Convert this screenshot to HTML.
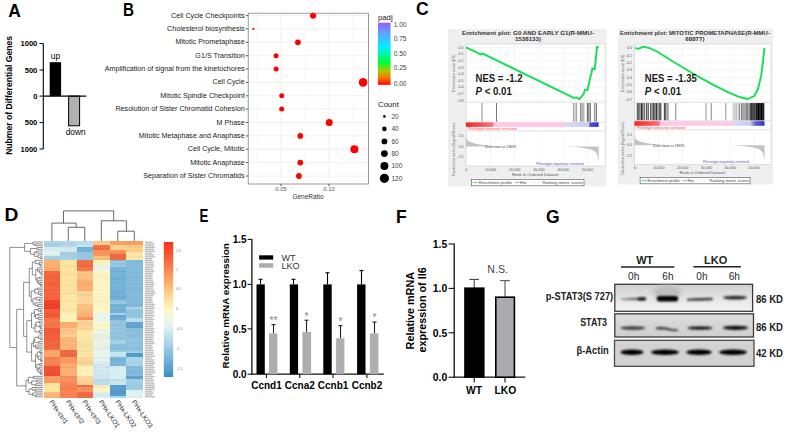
<!DOCTYPE html>
<html><head><meta charset="utf-8"><title>Figure</title>
<style>
html,body{margin:0;padding:0;background:#fff;}
body{width:789px;height:432px;overflow:hidden;position:relative;}
svg{position:absolute;left:0;top:0;font-family:"Liberation Sans", sans-serif;}
</style></head><body>
<svg width="789" height="432" viewBox="0 0 789 432">
<rect width="789" height="432" fill="#fff"/>
<text x="0" y="0" font-size="17.5" text-anchor="start" font-weight="bold" fill="#000" transform="translate(8.2,17.4) scale(1,1)">A</text>
<text x="0" y="0" font-size="17.5" text-anchor="start" font-weight="bold" fill="#000" transform="translate(123,16) scale(0.87,1)">B</text>
<text x="0" y="0" font-size="17.5" text-anchor="start" font-weight="bold" fill="#000" transform="translate(416,14.8) scale(1,1)">C</text>
<text x="0" y="0" font-size="17.5" text-anchor="start" font-weight="bold" fill="#000" transform="translate(4.6,221.3) scale(1.1,1)">D</text>
<text x="0" y="0" font-size="17.5" text-anchor="start" font-weight="bold" fill="#000" transform="translate(199.6,222) scale(0.76,1)">E</text>
<text x="0" y="0" font-size="17.5" text-anchor="start" font-weight="bold" fill="#000" transform="translate(396,222.8) scale(1,1)">F</text>
<text x="0" y="0" font-size="17.5" text-anchor="start" font-weight="bold" fill="#000" transform="translate(546,222.5) scale(1,1)">G</text>
<g id="A">
<line x1="43.3" y1="43.5" x2="43.3" y2="149" stroke="#000" stroke-width="1.1"/>
<line x1="39.5" y1="43.5" x2="43.3" y2="43.5" stroke="#000" stroke-width="1"/>
<text x="37.3" y="46.2" font-size="7.5" text-anchor="end" font-weight="bold" fill="#000" >1000</text>
<line x1="39.5" y1="70" x2="43.3" y2="70" stroke="#000" stroke-width="1"/>
<text x="37.3" y="72.7" font-size="7.5" text-anchor="end" font-weight="bold" fill="#000" >500</text>
<line x1="39.5" y1="96.1" x2="43.3" y2="96.1" stroke="#000" stroke-width="1"/>
<text x="37.3" y="98.8" font-size="7.5" text-anchor="end" font-weight="bold" fill="#000" >0</text>
<line x1="39.5" y1="122.6" x2="43.3" y2="122.6" stroke="#000" stroke-width="1"/>
<text x="37.3" y="125.3" font-size="7.5" text-anchor="end" font-weight="bold" fill="#000" >500</text>
<line x1="39.5" y1="149" x2="43.3" y2="149" stroke="#000" stroke-width="1"/>
<text x="37.3" y="151.7" font-size="7.5" text-anchor="end" font-weight="bold" fill="#000" >1000</text>
<rect x="49.7" y="62.2" width="11.4" height="33.9" fill="#000"/>
<rect x="68.6" y="96.1" width="11" height="29.7" fill="#b0b0b4" stroke="#000" stroke-width="1"/>
<line x1="43" y1="96.1" x2="86.2" y2="96.1" stroke="#000" stroke-width="1.2"/>
<text x="55.5" y="59.2" font-size="8.4" text-anchor="middle" font-weight="normal" fill="#000" >up</text>
<text x="75.7" y="135.2" font-size="8.4" text-anchor="middle" font-weight="normal" fill="#000" >down</text>
<text x="0" y="0" font-size="8.6" text-anchor="middle" font-weight="bold" fill="#000" transform="translate(12.4,95.4) rotate(-90)">Nubmer of Differential Genes</text>
</g>
<g id="B">
<rect x="248.2" y="13.2" width="120.19999999999999" height="170.8" fill="#fff"/>
<line x1="257" y1="13.2" x2="257" y2="184.0" stroke="#f4f4f4" stroke-width="0.6"/>
<line x1="305" y1="13.2" x2="305" y2="184.0" stroke="#f4f4f4" stroke-width="0.6"/>
<line x1="353" y1="13.2" x2="353" y2="184.0" stroke="#f4f4f4" stroke-width="0.6"/>
<line x1="281" y1="13.2" x2="281" y2="184.0" stroke="#ececec" stroke-width="0.8"/>
<line x1="329" y1="13.2" x2="329" y2="184.0" stroke="#ececec" stroke-width="0.8"/>
<line x1="248.2" y1="15.6" x2="368.4" y2="15.6" stroke="#ececec" stroke-width="0.8"/>
<line x1="245.7" y1="15.6" x2="248.2" y2="15.6" stroke="#333" stroke-width="0.8"/>
<text x="244.7" y="17.6" font-size="7.17" text-anchor="end" font-weight="normal" fill="#222" >Cell Cycle Checkpoints</text>
<line x1="248.2" y1="28.9" x2="368.4" y2="28.9" stroke="#ececec" stroke-width="0.8"/>
<line x1="245.7" y1="28.9" x2="248.2" y2="28.9" stroke="#333" stroke-width="0.8"/>
<text x="244.7" y="30.9" font-size="7.17" text-anchor="end" font-weight="normal" fill="#222" >Cholesterol biosynthesis</text>
<line x1="248.2" y1="42.3" x2="368.4" y2="42.3" stroke="#ececec" stroke-width="0.8"/>
<line x1="245.7" y1="42.3" x2="248.2" y2="42.3" stroke="#333" stroke-width="0.8"/>
<text x="244.7" y="44.3" font-size="7.17" text-anchor="end" font-weight="normal" fill="#222" >Mitotic Prometaphase</text>
<line x1="248.2" y1="55.7" x2="368.4" y2="55.7" stroke="#ececec" stroke-width="0.8"/>
<line x1="245.7" y1="55.7" x2="248.2" y2="55.7" stroke="#333" stroke-width="0.8"/>
<text x="244.7" y="57.7" font-size="7.17" text-anchor="end" font-weight="normal" fill="#222" >G1/S Transition</text>
<line x1="248.2" y1="69.0" x2="368.4" y2="69.0" stroke="#ececec" stroke-width="0.8"/>
<line x1="245.7" y1="69.0" x2="248.2" y2="69.0" stroke="#333" stroke-width="0.8"/>
<text x="244.7" y="71.0" font-size="7.17" text-anchor="end" font-weight="normal" fill="#222" >Amplification of signal from the kinetochores</text>
<line x1="248.2" y1="82.4" x2="368.4" y2="82.4" stroke="#ececec" stroke-width="0.8"/>
<line x1="245.7" y1="82.4" x2="248.2" y2="82.4" stroke="#333" stroke-width="0.8"/>
<text x="244.7" y="84.4" font-size="7.17" text-anchor="end" font-weight="normal" fill="#222" >Cell Cycle</text>
<line x1="248.2" y1="95.8" x2="368.4" y2="95.8" stroke="#ececec" stroke-width="0.8"/>
<line x1="245.7" y1="95.8" x2="248.2" y2="95.8" stroke="#333" stroke-width="0.8"/>
<text x="244.7" y="97.8" font-size="7.17" text-anchor="end" font-weight="normal" fill="#222" >Mitotic Spindle Checkpoint</text>
<line x1="248.2" y1="109.1" x2="368.4" y2="109.1" stroke="#ececec" stroke-width="0.8"/>
<line x1="245.7" y1="109.1" x2="248.2" y2="109.1" stroke="#333" stroke-width="0.8"/>
<text x="244.7" y="111.1" font-size="7.17" text-anchor="end" font-weight="normal" fill="#222" >Resolution of Sister Chromatid Cohesion</text>
<line x1="248.2" y1="122.5" x2="368.4" y2="122.5" stroke="#ececec" stroke-width="0.8"/>
<line x1="245.7" y1="122.5" x2="248.2" y2="122.5" stroke="#333" stroke-width="0.8"/>
<text x="244.7" y="124.5" font-size="7.17" text-anchor="end" font-weight="normal" fill="#222" >M Phase</text>
<line x1="248.2" y1="135.9" x2="368.4" y2="135.9" stroke="#ececec" stroke-width="0.8"/>
<line x1="245.7" y1="135.9" x2="248.2" y2="135.9" stroke="#333" stroke-width="0.8"/>
<text x="244.7" y="137.9" font-size="7.17" text-anchor="end" font-weight="normal" fill="#222" >Mitotic Metaphase and Anaphase</text>
<line x1="248.2" y1="149.3" x2="368.4" y2="149.3" stroke="#ececec" stroke-width="0.8"/>
<line x1="245.7" y1="149.3" x2="248.2" y2="149.3" stroke="#333" stroke-width="0.8"/>
<text x="244.7" y="151.3" font-size="7.17" text-anchor="end" font-weight="normal" fill="#222" >Cell Cycle, Mitotic</text>
<line x1="248.2" y1="162.6" x2="368.4" y2="162.6" stroke="#ececec" stroke-width="0.8"/>
<line x1="245.7" y1="162.6" x2="248.2" y2="162.6" stroke="#333" stroke-width="0.8"/>
<text x="244.7" y="164.6" font-size="7.17" text-anchor="end" font-weight="normal" fill="#222" >Mitotic Anaphase</text>
<line x1="248.2" y1="176.0" x2="368.4" y2="176.0" stroke="#ececec" stroke-width="0.8"/>
<line x1="245.7" y1="176.0" x2="248.2" y2="176.0" stroke="#333" stroke-width="0.8"/>
<text x="244.7" y="178.0" font-size="7.17" text-anchor="end" font-weight="normal" fill="#222" >Separation of Sister Chromatids</text>
<circle cx="313.1" cy="15.6" r="3.1" fill="#ff0000"/>
<circle cx="253.4" cy="28.9" r="1.1" fill="#ff0000"/>
<circle cx="297.9" cy="42.3" r="2.9" fill="#ff0000"/>
<circle cx="276.1" cy="55.7" r="2.5" fill="#ff0000"/>
<circle cx="276.1" cy="69.0" r="2.5" fill="#ff0000"/>
<circle cx="363.1" cy="82.4" r="4.3" fill="#ff0000"/>
<circle cx="281.7" cy="95.8" r="2.5" fill="#ff0000"/>
<circle cx="281.7" cy="109.1" r="2.5" fill="#ff0000"/>
<circle cx="329.2" cy="122.5" r="3.5" fill="#ff0000"/>
<circle cx="300.3" cy="135.9" r="2.9" fill="#ff0000"/>
<circle cx="354.4" cy="149.3" r="4.0" fill="#ff0000"/>
<circle cx="300.3" cy="162.6" r="2.9" fill="#ff0000"/>
<circle cx="298.9" cy="176.0" r="2.9" fill="#ff0000"/>
<rect x="248.2" y="13.2" width="120.19999999999999" height="170.8" fill="none" stroke="#808080" stroke-width="0.8"/>
<line x1="281" y1="184.0" x2="281" y2="186.2" stroke="#333" stroke-width="0.8"/>
<text x="281" y="190.6" font-size="5.8" text-anchor="middle" font-weight="normal" fill="#555" >0.05</text>
<line x1="329" y1="184.0" x2="329" y2="186.2" stroke="#333" stroke-width="0.8"/>
<text x="329" y="190.6" font-size="5.8" text-anchor="middle" font-weight="normal" fill="#555" >0.10</text>
<text x="308" y="198.6" font-size="6.5" text-anchor="middle" font-weight="normal" fill="#333" >GeneRatio</text>
<text x="377.9" y="19.9" font-size="7.8" text-anchor="start" font-weight="normal" fill="#222" >padj</text>
<defs><linearGradient id="padj" x1="0" y1="1" x2="0" y2="0"><stop offset="0" stop-color="#ff0000"/><stop offset="0.1" stop-color="#ff6a00"/><stop offset="0.22" stop-color="#b8c400"/><stop offset="0.35" stop-color="#00ff30"/><stop offset="0.6" stop-color="#00f0ff"/><stop offset="0.82" stop-color="#5aa8ff"/><stop offset="1" stop-color="#9d5cff"/></linearGradient></defs>
<rect x="377.9" y="22.7" width="12.7" height="62.1" fill="url(#padj)"/>
<text x="393.7" y="26.7" font-size="6.6" text-anchor="start" font-weight="normal" fill="#444" >1.00</text>
<text x="393.7" y="41.3" font-size="6.6" text-anchor="start" font-weight="normal" fill="#444" >0.75</text>
<text x="393.7" y="55.8" font-size="6.6" text-anchor="start" font-weight="normal" fill="#444" >0.50</text>
<text x="393.7" y="70.39999999999999" font-size="6.6" text-anchor="start" font-weight="normal" fill="#444" >0.25</text>
<text x="393.7" y="85.8" font-size="6.6" text-anchor="start" font-weight="normal" fill="#444" >0.00</text>
<text x="378" y="106.6" font-size="7.8" text-anchor="start" font-weight="normal" fill="#222" >Count</text>
<circle cx="384.4" cy="116.4" r="1.3" fill="#000"/>
<text x="391.4" y="118.7" font-size="6.6" text-anchor="start" font-weight="normal" fill="#444" >20</text>
<circle cx="384.4" cy="128.9" r="2.3" fill="#000"/>
<text x="391.4" y="131.20000000000002" font-size="6.6" text-anchor="start" font-weight="normal" fill="#444" >40</text>
<circle cx="384.4" cy="141.4" r="2.9" fill="#000"/>
<text x="391.4" y="143.70000000000002" font-size="6.6" text-anchor="start" font-weight="normal" fill="#444" >60</text>
<circle cx="384.4" cy="153.6" r="3.4" fill="#000"/>
<text x="391.4" y="155.9" font-size="6.6" text-anchor="start" font-weight="normal" fill="#444" >80</text>
<circle cx="384.4" cy="166" r="4.0" fill="#000"/>
<text x="391.4" y="168.3" font-size="6.6" text-anchor="start" font-weight="normal" fill="#444" >100</text>
<circle cx="384.4" cy="178.3" r="4.6" fill="#000"/>
<text x="391.4" y="180.60000000000002" font-size="6.6" text-anchor="start" font-weight="normal" fill="#444" >120</text>
</g>
<g>
<rect x="448" y="28.9" width="158.70000000000005" height="157.5" fill="#efefef"/>
<rect x="466" y="44" width="139.10000000000002" height="122" fill="#fff"/>
<text x="528" y="34.5" font-size="6.1" text-anchor="middle" font-weight="bold" fill="#333" textLength="132" lengthAdjust="spacingAndGlyphs">Enrichment plot: G0 AND EARLY G1(R-MMU-</text>
<text x="528" y="40.9" font-size="6.1" text-anchor="middle" font-weight="bold" fill="#333" letter-spacing="0.05">1538133)</text>
<line x1="490.5" y1="44" x2="490.5" y2="102.2" stroke="#eeeeee" stroke-width="0.6"/>
<line x1="490.5" y1="130.9" x2="490.5" y2="166" stroke="#eeeeee" stroke-width="0.6"/>
<line x1="514.7" y1="44" x2="514.7" y2="102.2" stroke="#eeeeee" stroke-width="0.6"/>
<line x1="514.7" y1="130.9" x2="514.7" y2="166" stroke="#eeeeee" stroke-width="0.6"/>
<line x1="538.9" y1="44" x2="538.9" y2="102.2" stroke="#eeeeee" stroke-width="0.6"/>
<line x1="538.9" y1="130.9" x2="538.9" y2="166" stroke="#eeeeee" stroke-width="0.6"/>
<line x1="563.1" y1="44" x2="563.1" y2="102.2" stroke="#eeeeee" stroke-width="0.6"/>
<line x1="563.1" y1="130.9" x2="563.1" y2="166" stroke="#eeeeee" stroke-width="0.6"/>
<line x1="587.3" y1="44" x2="587.3" y2="102.2" stroke="#eeeeee" stroke-width="0.6"/>
<line x1="587.3" y1="130.9" x2="587.3" y2="166" stroke="#eeeeee" stroke-width="0.6"/>
<line x1="466" y1="47.6" x2="605.1" y2="47.6" stroke="#eeeeee" stroke-width="0.6"/>
<text x="463.5" y="48.8" font-size="3.6" text-anchor="end" font-weight="normal" fill="#555" >0.0</text>
<line x1="466" y1="54.2" x2="605.1" y2="54.2" stroke="#eeeeee" stroke-width="0.6"/>
<text x="463.5" y="55.4" font-size="3.6" text-anchor="end" font-weight="normal" fill="#555" >-0.1</text>
<line x1="466" y1="60.8" x2="605.1" y2="60.8" stroke="#eeeeee" stroke-width="0.6"/>
<text x="463.5" y="62.0" font-size="3.6" text-anchor="end" font-weight="normal" fill="#555" >-0.2</text>
<line x1="466" y1="67.4" x2="605.1" y2="67.4" stroke="#eeeeee" stroke-width="0.6"/>
<text x="463.5" y="68.6" font-size="3.6" text-anchor="end" font-weight="normal" fill="#555" >-0.3</text>
<line x1="466" y1="74.0" x2="605.1" y2="74.0" stroke="#eeeeee" stroke-width="0.6"/>
<text x="463.5" y="75.2" font-size="3.6" text-anchor="end" font-weight="normal" fill="#555" >-0.4</text>
<line x1="466" y1="80.6" x2="605.1" y2="80.6" stroke="#eeeeee" stroke-width="0.6"/>
<text x="463.5" y="81.8" font-size="3.6" text-anchor="end" font-weight="normal" fill="#555" >-0.5</text>
<line x1="466" y1="87.2" x2="605.1" y2="87.2" stroke="#eeeeee" stroke-width="0.6"/>
<text x="463.5" y="88.4" font-size="3.6" text-anchor="end" font-weight="normal" fill="#555" >-0.6</text>
<line x1="466" y1="93.8" x2="605.1" y2="93.8" stroke="#eeeeee" stroke-width="0.6"/>
<text x="463.5" y="95.0" font-size="3.6" text-anchor="end" font-weight="normal" fill="#555" >-0.7</text>
<line x1="466" y1="100.4" x2="605.1" y2="100.4" stroke="#eeeeee" stroke-width="0.6"/>
<text x="463.5" y="101.6" font-size="3.6" text-anchor="end" font-weight="normal" fill="#555" >-0.8</text>
<line x1="466" y1="44" x2="605.1" y2="44" stroke="#d4d4d4" stroke-width="0.7"/>
<line x1="466" y1="102.2" x2="605.1" y2="102.2" stroke="#d4d4d4" stroke-width="0.7"/>
<line x1="466" y1="122.2" x2="605.1" y2="122.2" stroke="#d4d4d4" stroke-width="0.7"/>
<line x1="466" y1="130.9" x2="605.1" y2="130.9" stroke="#d4d4d4" stroke-width="0.7"/>
<line x1="466" y1="166" x2="605.1" y2="166" stroke="#d4d4d4" stroke-width="0.7"/>
<line x1="466" y1="44" x2="466" y2="166" stroke="#cfcfcf" stroke-width="0.7"/>
<line x1="605.1" y1="44" x2="605.1" y2="166" stroke="#dddddd" stroke-width="0.7"/>
<text x="0" y="0" font-size="3.7" text-anchor="middle" font-weight="normal" fill="#666" transform="translate(455,73.1) rotate(-90)">Enrichment score (ES)</text>
<polyline points="466.0,47.4 481.2,54.6 482.3,53.4 573.8,97.9 576.2,97.4 579.4,99.1 583.5,94.2 585.1,89.4 587.5,90.2 589.9,78.8 591.6,72.4 592.4,68.3 594.8,69.1 596.4,52.9 596.9,46.8 598.8,47.3" fill="none" stroke="#12e052" stroke-width="1.9" stroke-linejoin="round"/>
<line x1="482.0" y1="103.0" x2="482.0" y2="121.7" stroke="#888" stroke-width="1.0"/>
<line x1="496.5" y1="103.0" x2="496.5" y2="121.7" stroke="#777" stroke-width="1.0"/>
<line x1="573.5" y1="103.0" x2="573.5" y2="121.7" stroke="rgb(170,170,170)" stroke-width="1.2"/>
<line x1="575.0" y1="103.0" x2="575.0" y2="121.7" stroke="rgb(185,185,185)" stroke-width="1.2"/>
<line x1="576.5" y1="103.0" x2="576.5" y2="121.7" stroke="rgb(165,165,165)" stroke-width="1.2"/>
<line x1="580.5" y1="103.0" x2="580.5" y2="121.7" stroke="rgb(150,150,150)" stroke-width="1.2"/>
<line x1="582.0" y1="103.0" x2="582.0" y2="121.7" stroke="rgb(135,135,135)" stroke-width="1.2"/>
<line x1="583.8" y1="103.0" x2="583.8" y2="121.7" stroke="rgb(165,165,165)" stroke-width="1.2"/>
<line x1="587.5" y1="103.0" x2="587.5" y2="121.7" stroke="rgb(100,100,100)" stroke-width="1.2"/>
<line x1="588.8" y1="103.0" x2="588.8" y2="121.7" stroke="rgb(130,130,130)" stroke-width="1.2"/>
<line x1="590.3" y1="103.0" x2="590.3" y2="121.7" stroke="rgb(115,115,115)" stroke-width="1.2"/>
<line x1="594.5" y1="103.0" x2="594.5" y2="121.7" stroke="rgb(150,150,150)" stroke-width="1.2"/>
<line x1="596.3" y1="103.0" x2="596.3" y2="121.7" stroke="rgb(115,115,115)" stroke-width="1.2"/>
<defs><linearGradient id="g1cb" x1="0" y1="0" x2="1" y2="0"><stop offset="0" stop-color="#ff2020"/><stop offset="0.1" stop-color="#ff4848"/><stop offset="0.2" stop-color="#ff7080"/><stop offset="0.212" stop-color="#ffc8e6"/><stop offset="0.755" stop-color="#ffc8e6"/><stop offset="0.757" stop-color="#d6daf6"/><stop offset="0.925" stop-color="#c8ccf2"/><stop offset="0.935" stop-color="#5050d8"/><stop offset="1" stop-color="#3030c8"/></linearGradient></defs>
<rect x="466" y="122.4" width="132.60000000000002" height="4.5" fill="url(#g1cb)"/>
<text x="468" y="130.3" font-size="3.5" text-anchor="start" font-weight="normal" fill="#ff4040" >Phenotype positively correlated</text>
<text x="536.2" y="164.6" font-size="3.6" text-anchor="start" font-weight="normal" fill="#5050d0" textLength="47.3" lengthAdjust="spacingAndGlyphs">Phenotype negatively correlated</text>
<text x="463.5" y="137.3" font-size="3.6" text-anchor="end" font-weight="normal" fill="#555" >2.5</text>
<text x="463.5" y="147.6" font-size="3.6" text-anchor="end" font-weight="normal" fill="#555" >0.0</text>
<text x="463.5" y="158.4" font-size="3.6" text-anchor="end" font-weight="normal" fill="#555" >-2.5</text>
<path d="M466,137 C467,142 472,144.5 500,146.4 L466,146.4 Z" fill="#c4c4c4"/>
<path d="M565.7,146.4 C585,147.3 594,149 596.5,153 C597.8,156 598.3,159 598.7,164 L598.7,146.4 Z" fill="#c4c4c4"/>
<text x="484.8" y="147.70000000000002" font-size="3.5" text-anchor="start" font-weight="normal" fill="#444" >Zero cross at 13693</text>
<text x="0" y="0" font-size="3.6" text-anchor="middle" font-weight="normal" fill="#666" transform="translate(455,149.4) rotate(-90)">Ranked list metric (Signal2Noise)</text>
<text x="466.3" y="170.9" font-size="3.7" text-anchor="middle" font-weight="normal" fill="#555" >0</text>
<text x="490.5" y="170.9" font-size="3.7" text-anchor="middle" font-weight="normal" fill="#555" >10,000</text>
<text x="514.7" y="170.9" font-size="3.7" text-anchor="middle" font-weight="normal" fill="#555" >20,000</text>
<text x="538.9" y="170.9" font-size="3.7" text-anchor="middle" font-weight="normal" fill="#555" >30,000</text>
<text x="563.1" y="170.9" font-size="3.7" text-anchor="middle" font-weight="normal" fill="#555" >40,000</text>
<text x="587.3" y="170.9" font-size="3.7" text-anchor="middle" font-weight="normal" fill="#555" >50,000</text>
<text x="535.2" y="175.8" font-size="4.2" text-anchor="middle" font-weight="normal" fill="#555" textLength="46.6" lengthAdjust="spacingAndGlyphs">Rank in Ordered Dataset</text>
<rect x="471.3" y="179.3" width="112.69999999999999" height="6.5" fill="#fff" stroke="#555" stroke-width="0.6"/>
<line x1="472.5" y1="182.55" x2="478.5" y2="182.55" stroke="#5de58a" stroke-width="1.2"/>
<text x="478.9" y="183.95000000000002" font-size="4.1" text-anchor="start" font-weight="normal" fill="#444" textLength="33.1" lengthAdjust="spacingAndGlyphs">Enrichment profile</text>
<line x1="514.7" y1="182.55" x2="519.2" y2="182.55" stroke="#555" stroke-width="0.5"/>
<text x="519.8" y="183.95000000000002" font-size="4.1" text-anchor="start" font-weight="normal" fill="#444" textLength="7.0" lengthAdjust="spacingAndGlyphs">Hits</text>
<line x1="531.0" y1="182.55" x2="541.2" y2="182.55" stroke="#ddd" stroke-width="0.5"/>
<text x="542.5" y="183.95000000000002" font-size="4.1" text-anchor="start" font-weight="normal" fill="#444" textLength="40.6" lengthAdjust="spacingAndGlyphs">Ranking metric scores</text>
<text x="475.5" y="82" font-size="10.6" text-anchor="start" font-weight="bold" fill="#1a1a1a" textLength="47" lengthAdjust="spacingAndGlyphs">NES = -1.2</text>
<text x="475.5" y="95.4" font-size="10.6" text-anchor="start" font-weight="bold" fill="#1a1a1a" textLength="36.3" lengthAdjust="spacingAndGlyphs"><tspan font-style="italic">P</tspan> &lt; 0.01</text>
</g>
<g>
<rect x="618" y="28.9" width="155" height="155.7" fill="#efefef"/>
<rect x="634.5" y="44" width="136.5" height="120.5" fill="#fff"/>
<text x="694.9" y="34.5" font-size="6.1" text-anchor="middle" font-weight="bold" fill="#333" textLength="150" lengthAdjust="spacingAndGlyphs">Enrichment plot: MITOTIC PROMETAPHASE(R-MMU-</text>
<text x="694.9" y="40.9" font-size="6.1" text-anchor="middle" font-weight="bold" fill="#333" letter-spacing="0.05">68877)</text>
<line x1="658.8" y1="44" x2="658.8" y2="102.3" stroke="#eeeeee" stroke-width="0.6"/>
<line x1="658.8" y1="129.8" x2="658.8" y2="164.5" stroke="#eeeeee" stroke-width="0.6"/>
<line x1="682.6" y1="44" x2="682.6" y2="102.3" stroke="#eeeeee" stroke-width="0.6"/>
<line x1="682.6" y1="129.8" x2="682.6" y2="164.5" stroke="#eeeeee" stroke-width="0.6"/>
<line x1="706.4" y1="44" x2="706.4" y2="102.3" stroke="#eeeeee" stroke-width="0.6"/>
<line x1="706.4" y1="129.8" x2="706.4" y2="164.5" stroke="#eeeeee" stroke-width="0.6"/>
<line x1="730.2" y1="44" x2="730.2" y2="102.3" stroke="#eeeeee" stroke-width="0.6"/>
<line x1="730.2" y1="129.8" x2="730.2" y2="164.5" stroke="#eeeeee" stroke-width="0.6"/>
<line x1="754.0" y1="44" x2="754.0" y2="102.3" stroke="#eeeeee" stroke-width="0.6"/>
<line x1="754.0" y1="129.8" x2="754.0" y2="164.5" stroke="#eeeeee" stroke-width="0.6"/>
<line x1="634.5" y1="48.0" x2="771" y2="48.0" stroke="#eeeeee" stroke-width="0.6"/>
<text x="632.0" y="49.2" font-size="3.6" text-anchor="end" font-weight="normal" fill="#555" >0.0</text>
<line x1="634.5" y1="55.4" x2="771" y2="55.4" stroke="#eeeeee" stroke-width="0.6"/>
<text x="632.0" y="56.6" font-size="3.6" text-anchor="end" font-weight="normal" fill="#555" >-0.1</text>
<line x1="634.5" y1="62.7" x2="771" y2="62.7" stroke="#eeeeee" stroke-width="0.6"/>
<text x="632.0" y="63.9" font-size="3.6" text-anchor="end" font-weight="normal" fill="#555" >-0.2</text>
<line x1="634.5" y1="70.0" x2="771" y2="70.0" stroke="#eeeeee" stroke-width="0.6"/>
<text x="632.0" y="71.2" font-size="3.6" text-anchor="end" font-weight="normal" fill="#555" >-0.3</text>
<line x1="634.5" y1="77.4" x2="771" y2="77.4" stroke="#eeeeee" stroke-width="0.6"/>
<text x="632.0" y="78.6" font-size="3.6" text-anchor="end" font-weight="normal" fill="#555" >-0.4</text>
<line x1="634.5" y1="84.8" x2="771" y2="84.8" stroke="#eeeeee" stroke-width="0.6"/>
<text x="632.0" y="86.0" font-size="3.6" text-anchor="end" font-weight="normal" fill="#555" >-0.5</text>
<line x1="634.5" y1="92.1" x2="771" y2="92.1" stroke="#eeeeee" stroke-width="0.6"/>
<text x="632.0" y="93.3" font-size="3.6" text-anchor="end" font-weight="normal" fill="#555" >-0.6</text>
<line x1="634.5" y1="99.4" x2="771" y2="99.4" stroke="#eeeeee" stroke-width="0.6"/>
<text x="632.0" y="100.6" font-size="3.6" text-anchor="end" font-weight="normal" fill="#555" >-0.7</text>
<line x1="634.5" y1="44" x2="771" y2="44" stroke="#d4d4d4" stroke-width="0.7"/>
<line x1="634.5" y1="102.3" x2="771" y2="102.3" stroke="#d4d4d4" stroke-width="0.7"/>
<line x1="634.5" y1="120.8" x2="771" y2="120.8" stroke="#d4d4d4" stroke-width="0.7"/>
<line x1="634.5" y1="129.8" x2="771" y2="129.8" stroke="#d4d4d4" stroke-width="0.7"/>
<line x1="634.5" y1="164.5" x2="771" y2="164.5" stroke="#d4d4d4" stroke-width="0.7"/>
<line x1="634.5" y1="44" x2="634.5" y2="164.5" stroke="#cfcfcf" stroke-width="0.7"/>
<line x1="771" y1="44" x2="771" y2="164.5" stroke="#dddddd" stroke-width="0.7"/>
<text x="0" y="0" font-size="3.7" text-anchor="middle" font-weight="normal" fill="#666" transform="translate(623.5,73.2) rotate(-90)">Enrichment score (ES)</text>
<polyline points="635.2,47.9 638.3,48.8 643.5,46.7 648.8,47.9 657.0,51.5 671.7,60.8 692.5,73.3 713.3,84.8 730.0,93.1 740.4,97.3 747.7,99.0 754.0,96.2 758.0,89.0 761.2,75.4 763.3,58.8 764.4,47.9" fill="none" stroke="#12e052" stroke-width="1.9" stroke-linejoin="round"/>
<line x1="637.3" y1="103.1" x2="637.3" y2="120.3" stroke="rgb(81,81,81)" stroke-width="1.1"/>
<line x1="638.8" y1="103.1" x2="638.8" y2="120.3" stroke="rgb(59,59,59)" stroke-width="1.1"/>
<line x1="640.0" y1="103.1" x2="640.0" y2="120.3" stroke="rgb(90,90,90)" stroke-width="1.1"/>
<line x1="641.5" y1="103.1" x2="641.5" y2="120.3" stroke="rgb(46,46,46)" stroke-width="1.1"/>
<line x1="642.9" y1="103.1" x2="642.9" y2="120.3" stroke="rgb(49,49,49)" stroke-width="1.1"/>
<line x1="644.6" y1="103.1" x2="644.6" y2="120.3" stroke="rgb(108,108,108)" stroke-width="1.1"/>
<line x1="646.7" y1="103.1" x2="646.7" y2="120.3" stroke="rgb(52,52,52)" stroke-width="1.1"/>
<line x1="648.3" y1="103.1" x2="648.3" y2="120.3" stroke="rgb(86,86,86)" stroke-width="1.1"/>
<line x1="650.8" y1="103.1" x2="650.8" y2="120.3" stroke="rgb(47,47,47)" stroke-width="1.1"/>
<line x1="652.2" y1="103.1" x2="652.2" y2="120.3" stroke="rgb(104,104,104)" stroke-width="1.1"/>
<line x1="653.6" y1="103.1" x2="653.6" y2="120.3" stroke="rgb(67,67,67)" stroke-width="1.1"/>
<line x1="655.0" y1="103.1" x2="655.0" y2="120.3" stroke="rgb(44,44,44)" stroke-width="1.1"/>
<line x1="656.5" y1="103.1" x2="656.5" y2="120.3" stroke="rgb(51,51,51)" stroke-width="1.1"/>
<line x1="658.0" y1="103.1" x2="658.0" y2="120.3" stroke="rgb(95,95,95)" stroke-width="1.1"/>
<line x1="659.4" y1="103.1" x2="659.4" y2="120.3" stroke="rgb(93,93,93)" stroke-width="1.1"/>
<line x1="660.8" y1="103.1" x2="660.8" y2="120.3" stroke="rgb(48,48,48)" stroke-width="1.1"/>
<line x1="664.4" y1="103.1" x2="664.4" y2="120.3" stroke="rgb(70,70,70)" stroke-width="1.1"/>
<line x1="665.8" y1="103.1" x2="665.8" y2="120.3" stroke="rgb(51,51,51)" stroke-width="1.1"/>
<line x1="667.9" y1="103.1" x2="667.9" y2="120.3" stroke="rgb(110,110,110)" stroke-width="1.1"/>
<line x1="675.8" y1="103.1" x2="675.8" y2="120.3" stroke="#777" stroke-width="0.9"/>
<line x1="706.0" y1="103.1" x2="706.0" y2="120.3" stroke="#888" stroke-width="0.9"/>
<line x1="711.2" y1="103.1" x2="711.2" y2="120.3" stroke="#777" stroke-width="0.9"/>
<line x1="725.8" y1="103.1" x2="725.8" y2="120.3" stroke="#888" stroke-width="0.9"/>
<line x1="733.0" y1="103.1" x2="733.0" y2="120.3" stroke="rgb(202,202,202)" stroke-width="1.0"/>
<line x1="734.0" y1="103.1" x2="734.0" y2="120.3" stroke="rgb(205,205,205)" stroke-width="1.0"/>
<line x1="735.0" y1="103.1" x2="735.0" y2="120.3" stroke="rgb(177,177,177)" stroke-width="1.0"/>
<line x1="736.4" y1="103.1" x2="736.4" y2="120.3" stroke="rgb(191,191,191)" stroke-width="1.0"/>
<line x1="738.2" y1="103.1" x2="738.2" y2="120.3" stroke="rgb(179,179,179)" stroke-width="1.0"/>
<line x1="739.6" y1="103.1" x2="739.6" y2="120.3" stroke="rgb(138,138,138)" stroke-width="1.0"/>
<line x1="741.4" y1="103.1" x2="741.4" y2="120.3" stroke="rgb(126,126,126)" stroke-width="1.0"/>
<line x1="742.8" y1="103.1" x2="742.8" y2="120.3" stroke="rgb(124,124,124)" stroke-width="1.0"/>
<line x1="744.0" y1="103.1" x2="744.0" y2="120.3" stroke="rgb(118,118,118)" stroke-width="1.0"/>
<line x1="745.3" y1="103.1" x2="745.3" y2="120.3" stroke="rgb(136,136,136)" stroke-width="1.0"/>
<line x1="746.5" y1="103.1" x2="746.5" y2="120.3" stroke="rgb(136,136,136)" stroke-width="1.0"/>
<line x1="747.6" y1="103.1" x2="747.6" y2="120.3" stroke="rgb(124,124,124)" stroke-width="1.0"/>
<line x1="749.0" y1="103.1" x2="749.0" y2="120.3" stroke="rgb(91,91,91)" stroke-width="1.0"/>
<line x1="750.2" y1="103.1" x2="750.2" y2="120.3" stroke="rgb(85,85,85)" stroke-width="1.0"/>
<line x1="750.9" y1="103.1" x2="750.9" y2="120.3" stroke="rgb(45,45,45)" stroke-width="1.0"/>
<line x1="751.6" y1="103.1" x2="751.6" y2="120.3" stroke="rgb(47,47,47)" stroke-width="1.0"/>
<line x1="752.3" y1="103.1" x2="752.3" y2="120.3" stroke="rgb(49,49,49)" stroke-width="1.0"/>
<line x1="753.0" y1="103.1" x2="753.0" y2="120.3" stroke="rgb(66,66,66)" stroke-width="1.0"/>
<line x1="753.7" y1="103.1" x2="753.7" y2="120.3" stroke="rgb(54,54,54)" stroke-width="1.0"/>
<line x1="754.4" y1="103.1" x2="754.4" y2="120.3" stroke="rgb(71,71,71)" stroke-width="1.0"/>
<line x1="755.1" y1="103.1" x2="755.1" y2="120.3" stroke="rgb(47,47,47)" stroke-width="1.0"/>
<line x1="755.8" y1="103.1" x2="755.8" y2="120.3" stroke="rgb(70,70,70)" stroke-width="1.0"/>
<line x1="756.5" y1="103.1" x2="756.5" y2="120.3" stroke="rgb(60,60,60)" stroke-width="1.0"/>
<line x1="757.0" y1="103.1" x2="757.0" y2="120.3" stroke="#000" stroke-width="1.0"/>
<line x1="757.8" y1="103.1" x2="757.8" y2="120.3" stroke="#000" stroke-width="1.0"/>
<line x1="758.5" y1="103.1" x2="758.5" y2="120.3" stroke="#000" stroke-width="1.0"/>
<line x1="759.2" y1="103.1" x2="759.2" y2="120.3" stroke="#000" stroke-width="1.0"/>
<line x1="760.0" y1="103.1" x2="760.0" y2="120.3" stroke="#000" stroke-width="1.0"/>
<line x1="760.8" y1="103.1" x2="760.8" y2="120.3" stroke="#000" stroke-width="1.0"/>
<line x1="761.5" y1="103.1" x2="761.5" y2="120.3" stroke="#000" stroke-width="1.0"/>
<line x1="762.2" y1="103.1" x2="762.2" y2="120.3" stroke="#000" stroke-width="1.0"/>
<line x1="763.0" y1="103.1" x2="763.0" y2="120.3" stroke="#000" stroke-width="1.0"/>
<line x1="763.8" y1="103.1" x2="763.8" y2="120.3" stroke="#000" stroke-width="1.0"/>
<defs><linearGradient id="g2cb" x1="0" y1="0" x2="1" y2="0"><stop offset="0" stop-color="#ff2020"/><stop offset="0.1" stop-color="#ff4848"/><stop offset="0.19" stop-color="#ff7080"/><stop offset="0.2" stop-color="#ffc8e6"/><stop offset="0.755" stop-color="#ffc8e6"/><stop offset="0.757" stop-color="#d6daf6"/><stop offset="0.89" stop-color="#c8ccf2"/><stop offset="0.93" stop-color="#6060d8"/><stop offset="1" stop-color="#3030c0"/></linearGradient></defs>
<rect x="634.5" y="121.2" width="130.0" height="4.599999999999994" fill="url(#g2cb)"/>
<text x="636.5" y="129.2" font-size="3.5" text-anchor="start" font-weight="normal" fill="#ff4040" >Phenotype positively correlated</text>
<text x="703" y="163" font-size="3.6" text-anchor="start" font-weight="normal" fill="#5050d0" textLength="46" lengthAdjust="spacingAndGlyphs">Phenotype negatively correlated</text>
<text x="632.0" y="136.1" font-size="3.6" text-anchor="end" font-weight="normal" fill="#555" >2.5</text>
<text x="632.0" y="146.4" font-size="3.6" text-anchor="end" font-weight="normal" fill="#555" >0.0</text>
<text x="632.0" y="157.2" font-size="3.6" text-anchor="end" font-weight="normal" fill="#555" >-2.5</text>
<path d="M634.5,136 C635.5,141 640,143.5 668,145.2 L634.5,145.2 Z" fill="#c4c4c4"/>
<path d="M732,145.2 C751,146.1 760,148 762.4,152 C763.6,155 764.1,158 764.5,162.5 L764.5,145.2 Z" fill="#c4c4c4"/>
<text x="653" y="146.5" font-size="3.5" text-anchor="start" font-weight="normal" fill="#444" >Zero cross at 13693</text>
<text x="0" y="0" font-size="3.6" text-anchor="middle" font-weight="normal" fill="#666" transform="translate(623.5,148.2) rotate(-90)">Ranked list metric (Signal2Noise)</text>
<text x="635.0" y="168.8" font-size="3.7" text-anchor="middle" font-weight="normal" fill="#555" >0</text>
<text x="658.8" y="168.8" font-size="3.7" text-anchor="middle" font-weight="normal" fill="#555" >10,000</text>
<text x="682.6" y="168.8" font-size="3.7" text-anchor="middle" font-weight="normal" fill="#555" >20,000</text>
<text x="706.4" y="168.8" font-size="3.7" text-anchor="middle" font-weight="normal" fill="#555" >30,000</text>
<text x="730.2" y="168.8" font-size="3.7" text-anchor="middle" font-weight="normal" fill="#555" >40,000</text>
<text x="754.0" y="168.8" font-size="3.7" text-anchor="middle" font-weight="normal" fill="#555" >50,000</text>
<text x="702.3" y="173.7" font-size="4.2" text-anchor="middle" font-weight="normal" fill="#555" textLength="45.6" lengthAdjust="spacingAndGlyphs">Rank in Ordered Dataset</text>
<rect x="640.1" y="177.6" width="110.0" height="6.200000000000017" fill="#fff" stroke="#555" stroke-width="0.6"/>
<line x1="641.3" y1="180.7" x2="647.1" y2="180.7" stroke="#5de58a" stroke-width="1.2"/>
<text x="647.5" y="182.1" font-size="4.1" text-anchor="start" font-weight="normal" fill="#444" textLength="32.3" lengthAdjust="spacingAndGlyphs">Enrichment profile</text>
<line x1="682.5" y1="180.7" x2="686.9" y2="180.7" stroke="#555" stroke-width="0.5"/>
<text x="687.4" y="182.1" font-size="4.1" text-anchor="start" font-weight="normal" fill="#444" textLength="6.8" lengthAdjust="spacingAndGlyphs">Hits</text>
<line x1="698.4" y1="180.7" x2="708.3" y2="180.7" stroke="#ddd" stroke-width="0.5"/>
<text x="709.6" y="182.1" font-size="4.1" text-anchor="start" font-weight="normal" fill="#444" textLength="39.6" lengthAdjust="spacingAndGlyphs">Ranking metric scores</text>
<text x="644.8" y="82" font-size="10.6" text-anchor="start" font-weight="bold" fill="#1a1a1a" textLength="52" lengthAdjust="spacingAndGlyphs">NES = -1.35</text>
<text x="644.8" y="95.2" font-size="10.6" text-anchor="start" font-weight="bold" fill="#1a1a1a" textLength="36.3" lengthAdjust="spacingAndGlyphs"><tspan font-style="italic">P</tspan> &lt; 0.01</text>
</g>
<defs><filter id="hmb" x="-2%" y="-2%" width="104%" height="104%"><feGaussianBlur stdDeviation="0.35"/></filter></defs><g shape-rendering="crispEdges" filter="url(#hmb)">
<rect x="43.60" y="241.10" width="16.80" height="2.14" fill="#acd5e8"/>
<rect x="43.60" y="242.94" width="16.80" height="2.14" fill="#a5cee1"/>
<rect x="43.60" y="244.78" width="16.80" height="2.14" fill="#a8d2e4"/>
<rect x="43.60" y="246.62" width="16.80" height="2.14" fill="#d7edef"/>
<rect x="43.60" y="248.46" width="16.80" height="2.14" fill="#d5ebed"/>
<rect x="43.60" y="250.31" width="16.80" height="2.14" fill="#d7edef"/>
<rect x="43.60" y="252.15" width="16.80" height="2.14" fill="#e2f3f2"/>
<rect x="43.60" y="253.99" width="16.80" height="2.14" fill="#dbebea"/>
<rect x="43.60" y="255.83" width="16.80" height="2.14" fill="#a9d1e5"/>
<rect x="43.60" y="257.67" width="16.80" height="2.14" fill="#a5ccdf"/>
<rect x="43.60" y="259.51" width="16.80" height="2.14" fill="#faac69"/>
<rect x="43.60" y="261.35" width="16.80" height="2.14" fill="#fdb06f"/>
<rect x="43.60" y="263.19" width="16.80" height="2.14" fill="#fbad6a"/>
<rect x="43.60" y="265.04" width="16.80" height="2.14" fill="#fdb06f"/>
<rect x="43.60" y="266.88" width="16.80" height="2.14" fill="#f5a867"/>
<rect x="43.60" y="268.72" width="16.80" height="2.14" fill="#fdae6b"/>
<rect x="43.60" y="270.56" width="16.80" height="2.14" fill="#f56842"/>
<rect x="43.60" y="272.40" width="16.80" height="2.14" fill="#f56843"/>
<rect x="43.60" y="274.24" width="16.80" height="2.14" fill="#f2633e"/>
<rect x="43.60" y="276.08" width="16.80" height="2.14" fill="#f2633e"/>
<rect x="43.60" y="277.92" width="16.80" height="2.14" fill="#f4643e"/>
<rect x="43.60" y="279.76" width="16.80" height="2.14" fill="#f56842"/>
<rect x="43.60" y="281.61" width="16.80" height="2.14" fill="#ed613d"/>
<rect x="43.60" y="283.45" width="16.80" height="2.14" fill="#ee623d"/>
<rect x="43.60" y="285.29" width="16.80" height="2.14" fill="#f1633d"/>
<rect x="43.60" y="287.13" width="16.80" height="2.14" fill="#f56741"/>
<rect x="43.60" y="288.97" width="16.80" height="2.14" fill="#ed613d"/>
<rect x="43.60" y="290.81" width="16.80" height="2.14" fill="#f56742"/>
<rect x="43.60" y="292.65" width="16.80" height="2.14" fill="#f1633e"/>
<rect x="43.60" y="294.49" width="16.80" height="2.14" fill="#f56540"/>
<rect x="43.60" y="296.34" width="16.80" height="2.14" fill="#f56641"/>
<rect x="43.60" y="298.18" width="16.80" height="2.14" fill="#f4643e"/>
<rect x="43.60" y="300.02" width="16.80" height="2.14" fill="#f0402d"/>
<rect x="43.60" y="301.86" width="16.80" height="2.14" fill="#f0432f"/>
<rect x="43.60" y="303.70" width="16.80" height="2.14" fill="#ed3d29"/>
<rect x="43.60" y="305.54" width="16.80" height="2.14" fill="#f04330"/>
<rect x="43.60" y="307.38" width="16.80" height="2.14" fill="#ed3d29"/>
<rect x="43.60" y="309.22" width="16.80" height="2.14" fill="#f35d3b"/>
<rect x="43.60" y="311.06" width="16.80" height="2.14" fill="#f25b39"/>
<rect x="43.60" y="312.91" width="16.80" height="2.14" fill="#ee5a38"/>
<rect x="43.60" y="314.75" width="16.80" height="2.14" fill="#ef5a39"/>
<rect x="43.60" y="316.59" width="16.80" height="2.14" fill="#f35e3d"/>
<rect x="43.60" y="318.43" width="16.80" height="2.14" fill="#f3764a"/>
<rect x="43.60" y="320.27" width="16.80" height="2.14" fill="#f57a50"/>
<rect x="43.60" y="322.11" width="16.80" height="2.14" fill="#f4764a"/>
<rect x="43.60" y="323.95" width="16.80" height="2.14" fill="#ef7449"/>
<rect x="43.60" y="325.79" width="16.80" height="2.14" fill="#f3764a"/>
<rect x="43.60" y="327.64" width="16.80" height="2.14" fill="#ef5a39"/>
<rect x="43.60" y="329.48" width="16.80" height="2.14" fill="#ec5938"/>
<rect x="43.60" y="331.32" width="16.80" height="2.14" fill="#f15b39"/>
<rect x="43.60" y="333.16" width="16.80" height="2.14" fill="#f35c3a"/>
<rect x="43.60" y="335.00" width="16.80" height="2.14" fill="#f35e3c"/>
<rect x="43.60" y="336.84" width="16.80" height="2.14" fill="#f36140"/>
<rect x="43.60" y="338.68" width="16.80" height="2.14" fill="#f35e3c"/>
<rect x="43.60" y="340.52" width="16.80" height="2.14" fill="#f2683e"/>
<rect x="43.60" y="342.36" width="16.80" height="2.14" fill="#f0673d"/>
<rect x="43.60" y="344.21" width="16.80" height="2.14" fill="#ed653d"/>
<rect x="43.60" y="346.05" width="16.80" height="2.14" fill="#ef663d"/>
<rect x="43.60" y="347.89" width="16.80" height="2.14" fill="#f56a41"/>
<rect x="43.60" y="349.73" width="16.80" height="2.14" fill="#f4a466"/>
<rect x="43.60" y="351.57" width="16.80" height="2.14" fill="#fdab6d"/>
<rect x="43.60" y="353.41" width="16.80" height="2.14" fill="#f7a667"/>
<rect x="43.60" y="355.25" width="16.80" height="2.14" fill="#f9a768"/>
<rect x="43.60" y="357.09" width="16.80" height="2.14" fill="#f0804f"/>
<rect x="43.60" y="358.94" width="16.80" height="2.14" fill="#f78452"/>
<rect x="43.60" y="360.78" width="16.80" height="2.14" fill="#f78453"/>
<rect x="43.60" y="362.62" width="16.80" height="2.14" fill="#f38250"/>
<rect x="43.60" y="364.46" width="16.80" height="2.14" fill="#f0804f"/>
<rect x="43.60" y="366.30" width="16.80" height="2.14" fill="#f05037"/>
<rect x="43.60" y="368.14" width="16.80" height="2.14" fill="#f05138"/>
<rect x="43.60" y="369.98" width="16.80" height="2.14" fill="#f04d34"/>
<rect x="43.60" y="371.82" width="16.80" height="2.14" fill="#f04f35"/>
<rect x="43.60" y="373.66" width="16.80" height="2.14" fill="#ef4b31"/>
<rect x="43.60" y="375.51" width="16.80" height="2.14" fill="#fa9c64"/>
<rect x="43.60" y="377.35" width="16.80" height="2.14" fill="#fa9d65"/>
<rect x="43.60" y="379.19" width="16.80" height="2.14" fill="#fa9b62"/>
<rect x="43.60" y="381.03" width="16.80" height="2.14" fill="#fa9a60"/>
<rect x="43.60" y="382.87" width="16.80" height="2.14" fill="#fce69e"/>
<rect x="43.60" y="384.71" width="16.80" height="2.14" fill="#fce69e"/>
<rect x="43.60" y="386.55" width="16.80" height="2.14" fill="#fde79f"/>
<rect x="43.60" y="388.39" width="16.80" height="2.14" fill="#fce69e"/>
<rect x="43.60" y="390.24" width="16.80" height="2.14" fill="#f8e29c"/>
<rect x="43.60" y="392.08" width="16.80" height="2.14" fill="#fdba7c"/>
<rect x="43.60" y="393.92" width="16.80" height="2.14" fill="#fbb777"/>
<rect x="43.60" y="395.76" width="16.80" height="2.14" fill="#f6b274"/>
<rect x="60.10" y="241.10" width="16.80" height="2.14" fill="#b3d9ea"/>
<rect x="60.10" y="242.94" width="16.80" height="2.14" fill="#aed2e3"/>
<rect x="60.10" y="244.78" width="16.80" height="2.14" fill="#b3d9ea"/>
<rect x="60.10" y="246.62" width="16.80" height="2.14" fill="#cfe8f0"/>
<rect x="60.10" y="248.46" width="16.80" height="2.14" fill="#d0e8f0"/>
<rect x="60.10" y="250.31" width="16.80" height="2.14" fill="#cfe8f0"/>
<rect x="60.10" y="252.15" width="16.80" height="2.14" fill="#a3cae0"/>
<rect x="60.10" y="253.99" width="16.80" height="2.14" fill="#a5cce2"/>
<rect x="60.10" y="255.83" width="16.80" height="2.14" fill="#a7cfe4"/>
<rect x="60.10" y="257.67" width="16.80" height="2.14" fill="#a9d1e7"/>
<rect x="60.10" y="259.51" width="16.80" height="2.14" fill="#fee6a3"/>
<rect x="60.10" y="261.35" width="16.80" height="2.14" fill="#fee6a0"/>
<rect x="60.10" y="263.19" width="16.80" height="2.14" fill="#fde59f"/>
<rect x="60.10" y="265.04" width="16.80" height="2.14" fill="#f7df9b"/>
<rect x="60.10" y="266.88" width="16.80" height="2.14" fill="#fde59f"/>
<rect x="60.10" y="268.72" width="16.80" height="2.14" fill="#fee6a3"/>
<rect x="60.10" y="270.56" width="16.80" height="2.14" fill="#fde59f"/>
<rect x="60.10" y="272.40" width="16.80" height="2.14" fill="#fae29d"/>
<rect x="60.10" y="274.24" width="16.80" height="2.14" fill="#f7dd9c"/>
<rect x="60.10" y="276.08" width="16.80" height="2.14" fill="#fee3a1"/>
<rect x="60.10" y="277.92" width="16.80" height="2.14" fill="#fee3a1"/>
<rect x="60.10" y="279.76" width="16.80" height="2.14" fill="#fde29f"/>
<rect x="60.10" y="281.61" width="16.80" height="2.14" fill="#fee3a1"/>
<rect x="60.10" y="283.45" width="16.80" height="2.14" fill="#fee3a0"/>
<rect x="60.10" y="285.29" width="16.80" height="2.14" fill="#f8de9c"/>
<rect x="60.10" y="287.13" width="16.80" height="2.14" fill="#fee3a3"/>
<rect x="60.10" y="288.97" width="16.80" height="2.14" fill="#fbe09e"/>
<rect x="60.10" y="290.81" width="16.80" height="2.14" fill="#fee3a1"/>
<rect x="60.10" y="292.65" width="16.80" height="2.14" fill="#fdd193"/>
<rect x="60.10" y="294.49" width="16.80" height="2.14" fill="#fee8a9"/>
<rect x="60.10" y="296.34" width="16.80" height="2.14" fill="#fae4a5"/>
<rect x="60.10" y="298.18" width="16.80" height="2.14" fill="#fee8a8"/>
<rect x="60.10" y="300.02" width="16.80" height="2.14" fill="#f6e1a3"/>
<rect x="60.10" y="301.86" width="16.80" height="2.14" fill="#fee8aa"/>
<rect x="60.10" y="303.70" width="16.80" height="2.14" fill="#fee8a8"/>
<rect x="60.10" y="305.54" width="16.80" height="2.14" fill="#fee8aa"/>
<rect x="60.10" y="307.38" width="16.80" height="2.14" fill="#fbe5a6"/>
<rect x="60.10" y="309.22" width="16.80" height="2.14" fill="#f9e3a4"/>
<rect x="60.10" y="311.06" width="16.80" height="2.14" fill="#fee8a8"/>
<rect x="60.10" y="312.91" width="16.80" height="2.14" fill="#fff2b8"/>
<rect x="60.10" y="314.75" width="16.80" height="2.14" fill="#fff2b8"/>
<rect x="60.10" y="316.59" width="16.80" height="2.14" fill="#fff2b8"/>
<rect x="60.10" y="318.43" width="16.80" height="2.14" fill="#fff2b9"/>
<rect x="60.10" y="320.27" width="16.80" height="2.14" fill="#fff2b9"/>
<rect x="60.10" y="322.11" width="16.80" height="2.14" fill="#f7ac6d"/>
<rect x="60.10" y="323.95" width="16.80" height="2.14" fill="#f8ac6d"/>
<rect x="60.10" y="325.79" width="16.80" height="2.14" fill="#fbae6f"/>
<rect x="60.10" y="327.64" width="16.80" height="2.14" fill="#fdc687"/>
<rect x="60.10" y="329.48" width="16.80" height="2.14" fill="#f7c082"/>
<rect x="60.10" y="331.32" width="16.80" height="2.14" fill="#fcc484"/>
<rect x="60.10" y="333.16" width="16.80" height="2.14" fill="#fdc586"/>
<rect x="60.10" y="335.00" width="16.80" height="2.14" fill="#fdd698"/>
<rect x="60.10" y="336.84" width="16.80" height="2.14" fill="#fdb677"/>
<rect x="60.10" y="338.68" width="16.80" height="2.14" fill="#fcb474"/>
<rect x="60.10" y="340.52" width="16.80" height="2.14" fill="#f7b172"/>
<rect x="60.10" y="342.36" width="16.80" height="2.14" fill="#fdb576"/>
<rect x="60.10" y="344.21" width="16.80" height="2.14" fill="#fab373"/>
<rect x="60.10" y="346.05" width="16.80" height="2.14" fill="#fdb677"/>
<rect x="60.10" y="347.89" width="16.80" height="2.14" fill="#fdb677"/>
<rect x="60.10" y="349.73" width="16.80" height="2.14" fill="#ef6841"/>
<rect x="60.10" y="351.57" width="16.80" height="2.14" fill="#f26e48"/>
<rect x="60.10" y="353.41" width="16.80" height="2.14" fill="#ea6640"/>
<rect x="60.10" y="355.25" width="16.80" height="2.14" fill="#eb6740"/>
<rect x="60.10" y="357.09" width="16.80" height="2.14" fill="#f9995f"/>
<rect x="60.10" y="358.94" width="16.80" height="2.14" fill="#f7985e"/>
<rect x="60.10" y="360.78" width="16.80" height="2.14" fill="#f9995f"/>
<rect x="60.10" y="362.62" width="16.80" height="2.14" fill="#fa9d65"/>
<rect x="60.10" y="364.46" width="16.80" height="2.14" fill="#fdb071"/>
<rect x="60.10" y="366.30" width="16.80" height="2.14" fill="#f4a96c"/>
<rect x="60.10" y="368.14" width="16.80" height="2.14" fill="#fdb274"/>
<rect x="60.10" y="369.98" width="16.80" height="2.14" fill="#faae6e"/>
<rect x="60.10" y="371.82" width="16.80" height="2.14" fill="#fdb071"/>
<rect x="60.10" y="373.66" width="16.80" height="2.14" fill="#fdb173"/>
<rect x="60.10" y="375.51" width="16.80" height="2.14" fill="#f28c5d"/>
<rect x="60.10" y="377.35" width="16.80" height="2.14" fill="#f78e5f"/>
<rect x="60.10" y="379.19" width="16.80" height="2.14" fill="#f99162"/>
<rect x="60.10" y="381.03" width="16.80" height="2.14" fill="#f38c5d"/>
<rect x="60.10" y="382.87" width="16.80" height="2.14" fill="#f88354"/>
<rect x="60.10" y="384.71" width="16.80" height="2.14" fill="#f67f4f"/>
<rect x="60.10" y="386.55" width="16.80" height="2.14" fill="#f88151"/>
<rect x="60.10" y="388.39" width="16.80" height="2.14" fill="#f07c4d"/>
<rect x="60.10" y="390.24" width="16.80" height="2.14" fill="#f88355"/>
<rect x="60.10" y="392.08" width="16.80" height="2.14" fill="#f88152"/>
<rect x="60.10" y="393.92" width="16.80" height="2.14" fill="#f77f4f"/>
<rect x="60.10" y="395.76" width="16.80" height="2.14" fill="#f88252"/>
<rect x="76.60" y="241.10" width="16.80" height="2.14" fill="#bbdce7"/>
<rect x="76.60" y="242.94" width="16.80" height="2.14" fill="#bcdde8"/>
<rect x="76.60" y="244.78" width="16.80" height="2.14" fill="#c3e3ee"/>
<rect x="76.60" y="246.62" width="16.80" height="2.14" fill="#70add1"/>
<rect x="76.60" y="248.46" width="16.80" height="2.14" fill="#74b3d9"/>
<rect x="76.60" y="250.31" width="16.80" height="2.14" fill="#73b2d8"/>
<rect x="76.60" y="252.15" width="16.80" height="2.14" fill="#94c6e1"/>
<rect x="76.60" y="253.99" width="16.80" height="2.14" fill="#93c6e1"/>
<rect x="76.60" y="255.83" width="16.80" height="2.14" fill="#93c6e1"/>
<rect x="76.60" y="257.67" width="16.80" height="2.14" fill="#92c5e0"/>
<rect x="76.60" y="259.51" width="16.80" height="2.14" fill="#f47148"/>
<rect x="76.60" y="261.35" width="16.80" height="2.14" fill="#ee6a41"/>
<rect x="76.60" y="263.19" width="16.80" height="2.14" fill="#f46d43"/>
<rect x="76.60" y="265.04" width="16.80" height="2.14" fill="#eb6940"/>
<rect x="76.60" y="266.88" width="16.80" height="2.14" fill="#f5794b"/>
<rect x="76.60" y="268.72" width="16.80" height="2.14" fill="#f5794a"/>
<rect x="76.60" y="270.56" width="16.80" height="2.14" fill="#f5bf7f"/>
<rect x="76.60" y="272.40" width="16.80" height="2.14" fill="#fdc685"/>
<rect x="76.60" y="274.24" width="16.80" height="2.14" fill="#f6c07f"/>
<rect x="76.60" y="276.08" width="16.80" height="2.14" fill="#fdc687"/>
<rect x="76.60" y="277.92" width="16.80" height="2.14" fill="#f7c080"/>
<rect x="76.60" y="279.76" width="16.80" height="2.14" fill="#fdb273"/>
<rect x="76.60" y="281.61" width="16.80" height="2.14" fill="#f4aa6c"/>
<rect x="76.60" y="283.45" width="16.80" height="2.14" fill="#f7ac6d"/>
<rect x="76.60" y="285.29" width="16.80" height="2.14" fill="#fdb070"/>
<rect x="76.60" y="287.13" width="16.80" height="2.14" fill="#fdb172"/>
<rect x="76.60" y="288.97" width="16.80" height="2.14" fill="#f9ad6e"/>
<rect x="76.60" y="290.81" width="16.80" height="2.14" fill="#fed598"/>
<rect x="76.60" y="292.65" width="16.80" height="2.14" fill="#fed59a"/>
<rect x="76.60" y="294.49" width="16.80" height="2.14" fill="#f6ce93"/>
<rect x="76.60" y="296.34" width="16.80" height="2.14" fill="#fed599"/>
<rect x="76.60" y="298.18" width="16.80" height="2.14" fill="#fed69a"/>
<rect x="76.60" y="300.02" width="16.80" height="2.14" fill="#fed599"/>
<rect x="76.60" y="301.86" width="16.80" height="2.14" fill="#fed59a"/>
<rect x="76.60" y="303.70" width="16.80" height="2.14" fill="#fdc080"/>
<rect x="76.60" y="305.54" width="16.80" height="2.14" fill="#fdc182"/>
<rect x="76.60" y="307.38" width="16.80" height="2.14" fill="#fdc183"/>
<rect x="76.60" y="309.22" width="16.80" height="2.14" fill="#f6bb7c"/>
<rect x="76.60" y="311.06" width="16.80" height="2.14" fill="#f6bb7c"/>
<rect x="76.60" y="312.91" width="16.80" height="2.14" fill="#fdb070"/>
<rect x="76.60" y="314.75" width="16.80" height="2.14" fill="#fdb273"/>
<rect x="76.60" y="316.59" width="16.80" height="2.14" fill="#f99263"/>
<rect x="76.60" y="318.43" width="16.80" height="2.14" fill="#f99061"/>
<rect x="76.60" y="320.27" width="16.80" height="2.14" fill="#fed599"/>
<rect x="76.60" y="322.11" width="16.80" height="2.14" fill="#f7cf94"/>
<rect x="76.60" y="323.95" width="16.80" height="2.14" fill="#f7cf94"/>
<rect x="76.60" y="325.79" width="16.80" height="2.14" fill="#fed598"/>
<rect x="76.60" y="327.64" width="16.80" height="2.14" fill="#f7cf93"/>
<rect x="76.60" y="329.48" width="16.80" height="2.14" fill="#f6dea2"/>
<rect x="76.60" y="331.32" width="16.80" height="2.14" fill="#fee6a9"/>
<rect x="76.60" y="333.16" width="16.80" height="2.14" fill="#fee6a8"/>
<rect x="76.60" y="335.00" width="16.80" height="2.14" fill="#fde5a7"/>
<rect x="76.60" y="336.84" width="16.80" height="2.14" fill="#fee6a9"/>
<rect x="76.60" y="338.68" width="16.80" height="2.14" fill="#fee6aa"/>
<rect x="76.60" y="340.52" width="16.80" height="2.14" fill="#f6dea2"/>
<rect x="76.60" y="342.36" width="16.80" height="2.14" fill="#f8e1a4"/>
<rect x="76.60" y="344.21" width="16.80" height="2.14" fill="#f5dea2"/>
<rect x="76.60" y="346.05" width="16.80" height="2.14" fill="#f6dfa3"/>
<rect x="76.60" y="347.89" width="16.80" height="2.14" fill="#fde5a7"/>
<rect x="76.60" y="349.73" width="16.80" height="2.14" fill="#f5e0a2"/>
<rect x="76.60" y="351.57" width="16.80" height="2.14" fill="#fee8aa"/>
<rect x="76.60" y="353.41" width="16.80" height="2.14" fill="#f6e0a2"/>
<rect x="76.60" y="355.25" width="16.80" height="2.14" fill="#fae5a5"/>
<rect x="76.60" y="357.09" width="16.80" height="2.14" fill="#fdd698"/>
<rect x="76.60" y="358.94" width="16.80" height="2.14" fill="#fdd595"/>
<rect x="76.60" y="360.78" width="16.80" height="2.14" fill="#f7d091"/>
<rect x="76.60" y="362.62" width="16.80" height="2.14" fill="#f9d192"/>
<rect x="76.60" y="364.46" width="16.80" height="2.14" fill="#fdd595"/>
<rect x="76.60" y="366.30" width="16.80" height="2.14" fill="#fff2b9"/>
<rect x="76.60" y="368.14" width="16.80" height="2.14" fill="#fff2b8"/>
<rect x="76.60" y="369.98" width="16.80" height="2.14" fill="#faedb4"/>
<rect x="76.60" y="371.82" width="16.80" height="2.14" fill="#fff2b8"/>
<rect x="76.60" y="373.66" width="16.80" height="2.14" fill="#fff2b9"/>
<rect x="76.60" y="375.51" width="16.80" height="2.14" fill="#fed69b"/>
<rect x="76.60" y="377.35" width="16.80" height="2.14" fill="#fed69b"/>
<rect x="76.60" y="379.19" width="16.80" height="2.14" fill="#fed69a"/>
<rect x="76.60" y="381.03" width="16.80" height="2.14" fill="#f8d094"/>
<rect x="76.60" y="382.87" width="16.80" height="2.14" fill="#fdd497"/>
<rect x="76.60" y="384.71" width="16.80" height="2.14" fill="#f26c42"/>
<rect x="76.60" y="386.55" width="16.80" height="2.14" fill="#f78e5f"/>
<rect x="76.60" y="388.39" width="16.80" height="2.14" fill="#f58e5e"/>
<rect x="76.60" y="390.24" width="16.80" height="2.14" fill="#f99161"/>
<rect x="76.60" y="392.08" width="16.80" height="2.14" fill="#f26c42"/>
<rect x="76.60" y="393.92" width="16.80" height="2.14" fill="#ef6a41"/>
<rect x="76.60" y="395.76" width="16.80" height="2.14" fill="#f06b42"/>
<rect x="93.10" y="241.10" width="16.80" height="2.14" fill="#f6c986"/>
<rect x="93.10" y="242.94" width="16.80" height="2.14" fill="#fdcf8c"/>
<rect x="93.10" y="244.78" width="16.80" height="2.14" fill="#f47148"/>
<rect x="93.10" y="246.62" width="16.80" height="2.14" fill="#f46e44"/>
<rect x="93.10" y="248.46" width="16.80" height="2.14" fill="#f16b42"/>
<rect x="93.10" y="250.31" width="16.80" height="2.14" fill="#f6975a"/>
<rect x="93.10" y="252.15" width="16.80" height="2.14" fill="#f49659"/>
<rect x="93.10" y="253.99" width="16.80" height="2.14" fill="#fa995b"/>
<rect x="93.10" y="255.83" width="16.80" height="2.14" fill="#fdc17c"/>
<rect x="93.10" y="257.67" width="16.80" height="2.14" fill="#f5ba76"/>
<rect x="93.10" y="259.51" width="16.80" height="2.14" fill="#fff3c1"/>
<rect x="93.10" y="261.35" width="16.80" height="2.14" fill="#f8edbb"/>
<rect x="93.10" y="263.19" width="16.80" height="2.14" fill="#fff3c0"/>
<rect x="93.10" y="265.04" width="16.80" height="2.14" fill="#e3efeb"/>
<rect x="93.10" y="266.88" width="16.80" height="2.14" fill="#e8f4f0"/>
<rect x="93.10" y="268.72" width="16.80" height="2.14" fill="#e8f4f0"/>
<rect x="93.10" y="270.56" width="16.80" height="2.14" fill="#fdf4c2"/>
<rect x="93.10" y="272.40" width="16.80" height="2.14" fill="#fdf4c2"/>
<rect x="93.10" y="274.24" width="16.80" height="2.14" fill="#fcf3c2"/>
<rect x="93.10" y="276.08" width="16.80" height="2.14" fill="#f7eebe"/>
<rect x="93.10" y="277.92" width="16.80" height="2.14" fill="#fcf3c2"/>
<rect x="93.10" y="279.76" width="16.80" height="2.14" fill="#fcf3c1"/>
<rect x="93.10" y="281.61" width="16.80" height="2.14" fill="#fef5c3"/>
<rect x="93.10" y="283.45" width="16.80" height="2.14" fill="#fff6c4"/>
<rect x="93.10" y="285.29" width="16.80" height="2.14" fill="#fcf4c2"/>
<rect x="93.10" y="287.13" width="16.80" height="2.14" fill="#fff6c4"/>
<rect x="93.10" y="288.97" width="16.80" height="2.14" fill="#fbf2c1"/>
<rect x="93.10" y="290.81" width="16.80" height="2.14" fill="#fff6c5"/>
<rect x="93.10" y="292.65" width="16.80" height="2.14" fill="#f8efbe"/>
<rect x="93.10" y="294.49" width="16.80" height="2.14" fill="#fff6c5"/>
<rect x="93.10" y="296.34" width="16.80" height="2.14" fill="#faf1c0"/>
<rect x="93.10" y="298.18" width="16.80" height="2.14" fill="#fff6c5"/>
<rect x="93.10" y="300.02" width="16.80" height="2.14" fill="#f7eebe"/>
<rect x="93.10" y="301.86" width="16.80" height="2.14" fill="#faf2c0"/>
<rect x="93.10" y="303.70" width="16.80" height="2.14" fill="#fff6c5"/>
<rect x="93.10" y="305.54" width="16.80" height="2.14" fill="#f9f0bf"/>
<rect x="93.10" y="307.38" width="16.80" height="2.14" fill="#fff6c5"/>
<rect x="93.10" y="309.22" width="16.80" height="2.14" fill="#fff6c5"/>
<rect x="93.10" y="311.06" width="16.80" height="2.14" fill="#fff6c5"/>
<rect x="93.10" y="312.91" width="16.80" height="2.14" fill="#e8f4ee"/>
<rect x="93.10" y="314.75" width="16.80" height="2.14" fill="#e8f4ee"/>
<rect x="93.10" y="316.59" width="16.80" height="2.14" fill="#e6f2ec"/>
<rect x="93.10" y="318.43" width="16.80" height="2.14" fill="#e8f4ee"/>
<rect x="93.10" y="320.27" width="16.80" height="2.14" fill="#e8f4ee"/>
<rect x="93.10" y="322.11" width="16.80" height="2.14" fill="#fef7c7"/>
<rect x="93.10" y="323.95" width="16.80" height="2.14" fill="#fbf4c5"/>
<rect x="93.10" y="325.79" width="16.80" height="2.14" fill="#fbf4c4"/>
<rect x="93.10" y="327.64" width="16.80" height="2.14" fill="#fff8c9"/>
<rect x="93.10" y="329.48" width="16.80" height="2.14" fill="#e8f0e2"/>
<rect x="93.10" y="331.32" width="16.80" height="2.14" fill="#eef6e8"/>
<rect x="93.10" y="333.16" width="16.80" height="2.14" fill="#eaf2e4"/>
<rect x="93.10" y="335.00" width="16.80" height="2.14" fill="#e5ede0"/>
<rect x="93.10" y="336.84" width="16.80" height="2.14" fill="#e7eee1"/>
<rect x="93.10" y="338.68" width="16.80" height="2.14" fill="#eaf1e4"/>
<rect x="93.10" y="340.52" width="16.80" height="2.14" fill="#eef6e8"/>
<rect x="93.10" y="342.36" width="16.80" height="2.14" fill="#e9f1e3"/>
<rect x="93.10" y="344.21" width="16.80" height="2.14" fill="#eaf1e4"/>
<rect x="93.10" y="346.05" width="16.80" height="2.14" fill="#e7efe1"/>
<rect x="93.10" y="347.89" width="16.80" height="2.14" fill="#e5ede0"/>
<rect x="93.10" y="349.73" width="16.80" height="2.14" fill="#e8f4f0"/>
<rect x="93.10" y="351.57" width="16.80" height="2.14" fill="#e6f2ee"/>
<rect x="93.10" y="353.41" width="16.80" height="2.14" fill="#e8f4f0"/>
<rect x="93.10" y="355.25" width="16.80" height="2.14" fill="#e8f4f0"/>
<rect x="93.10" y="357.09" width="16.80" height="2.14" fill="#e0ece8"/>
<rect x="93.10" y="358.94" width="16.80" height="2.14" fill="#e8f4f0"/>
<rect x="93.10" y="360.78" width="16.80" height="2.14" fill="#d5ecf0"/>
<rect x="93.10" y="362.62" width="16.80" height="2.14" fill="#d5ecf0"/>
<rect x="93.10" y="364.46" width="16.80" height="2.14" fill="#d0e8eb"/>
<rect x="93.10" y="366.30" width="16.80" height="2.14" fill="#cbe2ea"/>
<rect x="93.10" y="368.14" width="16.80" height="2.14" fill="#d1e8f0"/>
<rect x="93.10" y="369.98" width="16.80" height="2.14" fill="#d0e8f0"/>
<rect x="93.10" y="371.82" width="16.80" height="2.14" fill="#d0e8f0"/>
<rect x="93.10" y="373.66" width="16.80" height="2.14" fill="#cbe3eb"/>
<rect x="93.10" y="375.51" width="16.80" height="2.14" fill="#cfe7ef"/>
<rect x="93.10" y="377.35" width="16.80" height="2.14" fill="#d0e8f0"/>
<rect x="93.10" y="379.19" width="16.80" height="2.14" fill="#b7d9e6"/>
<rect x="93.10" y="381.03" width="16.80" height="2.14" fill="#bbddea"/>
<rect x="93.10" y="382.87" width="16.80" height="2.14" fill="#bcdeea"/>
<rect x="93.10" y="384.71" width="16.80" height="2.14" fill="#f6ebb9"/>
<rect x="93.10" y="386.55" width="16.80" height="2.14" fill="#f6eab9"/>
<rect x="93.10" y="388.39" width="16.80" height="2.14" fill="#fff3c0"/>
<rect x="93.10" y="390.24" width="16.80" height="2.14" fill="#fff3c2"/>
<rect x="93.10" y="392.08" width="16.80" height="2.14" fill="#d8eef0"/>
<rect x="93.10" y="393.92" width="16.80" height="2.14" fill="#d4e9eb"/>
<rect x="93.10" y="395.76" width="16.80" height="2.14" fill="#d7edef"/>
<rect x="109.60" y="241.10" width="16.80" height="2.14" fill="#fba161"/>
<rect x="109.60" y="242.94" width="16.80" height="2.14" fill="#fba061"/>
<rect x="109.60" y="244.78" width="16.80" height="2.14" fill="#fdd08b"/>
<rect x="109.60" y="246.62" width="16.80" height="2.14" fill="#fdd08a"/>
<rect x="109.60" y="248.46" width="16.80" height="2.14" fill="#fdd18d"/>
<rect x="109.60" y="250.31" width="16.80" height="2.14" fill="#f8935f"/>
<rect x="109.60" y="252.15" width="16.80" height="2.14" fill="#f48e58"/>
<rect x="109.60" y="253.99" width="16.80" height="2.14" fill="#ed6740"/>
<rect x="109.60" y="255.83" width="16.80" height="2.14" fill="#ed6740"/>
<rect x="109.60" y="257.67" width="16.80" height="2.14" fill="#ec6740"/>
<rect x="109.60" y="259.51" width="16.80" height="2.14" fill="#7cb7da"/>
<rect x="109.60" y="261.35" width="16.80" height="2.14" fill="#99cae3"/>
<rect x="109.60" y="263.19" width="16.80" height="2.14" fill="#94c4dd"/>
<rect x="109.60" y="265.04" width="16.80" height="2.14" fill="#9bcbe3"/>
<rect x="109.60" y="266.88" width="16.80" height="2.14" fill="#78b5da"/>
<rect x="109.60" y="268.72" width="16.80" height="2.14" fill="#77b4d9"/>
<rect x="109.60" y="270.56" width="16.80" height="2.14" fill="#70acd1"/>
<rect x="109.60" y="272.40" width="16.80" height="2.14" fill="#75b3d9"/>
<rect x="109.60" y="274.24" width="16.80" height="2.14" fill="#77b5da"/>
<rect x="109.60" y="276.08" width="16.80" height="2.14" fill="#73b2d7"/>
<rect x="109.60" y="277.92" width="16.80" height="2.14" fill="#70add2"/>
<rect x="109.60" y="279.76" width="16.80" height="2.14" fill="#75b3d9"/>
<rect x="109.60" y="281.61" width="16.80" height="2.14" fill="#73b1d7"/>
<rect x="109.60" y="283.45" width="16.80" height="2.14" fill="#74b3d9"/>
<rect x="109.60" y="285.29" width="16.80" height="2.14" fill="#78b5da"/>
<rect x="109.60" y="287.13" width="16.80" height="2.14" fill="#74b3d9"/>
<rect x="109.60" y="288.97" width="16.80" height="2.14" fill="#75b4d9"/>
<rect x="109.60" y="290.81" width="16.80" height="2.14" fill="#70add2"/>
<rect x="109.60" y="292.65" width="16.80" height="2.14" fill="#71afd4"/>
<rect x="109.60" y="294.49" width="16.80" height="2.14" fill="#72b0d5"/>
<rect x="109.60" y="296.34" width="16.80" height="2.14" fill="#6facd1"/>
<rect x="109.60" y="298.18" width="16.80" height="2.14" fill="#72b1d6"/>
<rect x="109.60" y="300.02" width="16.80" height="2.14" fill="#92c3de"/>
<rect x="109.60" y="301.86" width="16.80" height="2.14" fill="#97c7e2"/>
<rect x="109.60" y="303.70" width="16.80" height="2.14" fill="#72b0d6"/>
<rect x="109.60" y="305.54" width="16.80" height="2.14" fill="#70add1"/>
<rect x="109.60" y="307.38" width="16.80" height="2.14" fill="#77b5da"/>
<rect x="109.60" y="309.22" width="16.80" height="2.14" fill="#71afd4"/>
<rect x="109.60" y="311.06" width="16.80" height="2.14" fill="#71afd4"/>
<rect x="109.60" y="312.91" width="16.80" height="2.14" fill="#a7d4e7"/>
<rect x="109.60" y="314.75" width="16.80" height="2.14" fill="#6ba7ce"/>
<rect x="109.60" y="316.59" width="16.80" height="2.14" fill="#6daad1"/>
<rect x="109.60" y="318.43" width="16.80" height="2.14" fill="#70add5"/>
<rect x="109.60" y="320.27" width="16.80" height="2.14" fill="#91c2dd"/>
<rect x="109.60" y="322.11" width="16.80" height="2.14" fill="#96c7e1"/>
<rect x="109.60" y="323.95" width="16.80" height="2.14" fill="#8fc0da"/>
<rect x="109.60" y="325.79" width="16.80" height="2.14" fill="#96c7e1"/>
<rect x="109.60" y="327.64" width="16.80" height="2.14" fill="#90c1db"/>
<rect x="109.60" y="329.48" width="16.80" height="2.14" fill="#94c6e1"/>
<rect x="109.60" y="331.32" width="16.80" height="2.14" fill="#92c4df"/>
<rect x="109.60" y="333.16" width="16.80" height="2.14" fill="#91c3dd"/>
<rect x="109.60" y="335.00" width="16.80" height="2.14" fill="#94c6e1"/>
<rect x="109.60" y="336.84" width="16.80" height="2.14" fill="#8fc0da"/>
<rect x="109.60" y="338.68" width="16.80" height="2.14" fill="#97c7e1"/>
<rect x="109.60" y="340.52" width="16.80" height="2.14" fill="#abd7ea"/>
<rect x="109.60" y="342.36" width="16.80" height="2.14" fill="#a4d1e4"/>
<rect x="109.60" y="344.21" width="16.80" height="2.14" fill="#88bfdd"/>
<rect x="109.60" y="346.05" width="16.80" height="2.14" fill="#87bfdd"/>
<rect x="109.60" y="347.89" width="16.80" height="2.14" fill="#85bedd"/>
<rect x="109.60" y="349.73" width="16.80" height="2.14" fill="#94c9e1"/>
<rect x="109.60" y="351.57" width="16.80" height="2.14" fill="#c7e7f0"/>
<rect x="109.60" y="353.41" width="16.80" height="2.14" fill="#c6e6ef"/>
<rect x="109.60" y="355.25" width="16.80" height="2.14" fill="#c3e3ec"/>
<rect x="109.60" y="357.09" width="16.80" height="2.14" fill="#7ab6da"/>
<rect x="109.60" y="358.94" width="16.80" height="2.14" fill="#75b1d4"/>
<rect x="109.60" y="360.78" width="16.80" height="2.14" fill="#7cb7da"/>
<rect x="109.60" y="362.62" width="16.80" height="2.14" fill="#7bb7da"/>
<rect x="109.60" y="364.46" width="16.80" height="2.14" fill="#79b6da"/>
<rect x="109.60" y="366.30" width="16.80" height="2.14" fill="#d6ecf0"/>
<rect x="109.60" y="368.14" width="16.80" height="2.14" fill="#d8eef2"/>
<rect x="109.60" y="369.98" width="16.80" height="2.14" fill="#d8eef2"/>
<rect x="109.60" y="371.82" width="16.80" height="2.14" fill="#d9eef2"/>
<rect x="109.60" y="373.66" width="16.80" height="2.14" fill="#d8eef2"/>
<rect x="109.60" y="375.51" width="16.80" height="2.14" fill="#d8eef2"/>
<rect x="109.60" y="377.35" width="16.80" height="2.14" fill="#d8eef2"/>
<rect x="109.60" y="379.19" width="16.80" height="2.14" fill="#c0dfe7"/>
<rect x="109.60" y="381.03" width="16.80" height="2.14" fill="#c7e7f0"/>
<rect x="109.60" y="382.87" width="16.80" height="2.14" fill="#c8e7f0"/>
<rect x="109.60" y="384.71" width="16.80" height="2.14" fill="#589fcd"/>
<rect x="109.60" y="386.55" width="16.80" height="2.14" fill="#5ba1ce"/>
<rect x="109.60" y="388.39" width="16.80" height="2.14" fill="#579ecd"/>
<rect x="109.60" y="390.24" width="16.80" height="2.14" fill="#5399c7"/>
<rect x="109.60" y="392.08" width="16.80" height="2.14" fill="#5398c6"/>
<rect x="109.60" y="393.92" width="16.80" height="2.14" fill="#579ecd"/>
<rect x="109.60" y="395.76" width="16.80" height="2.14" fill="#abd8ea"/>
<rect x="126.10" y="241.10" width="16.80" height="2.14" fill="#f89e5f"/>
<rect x="126.10" y="242.94" width="16.80" height="2.14" fill="#fa9f5f"/>
<rect x="126.10" y="244.78" width="16.80" height="2.14" fill="#f6c885"/>
<rect x="126.10" y="246.62" width="16.80" height="2.14" fill="#f5c885"/>
<rect x="126.10" y="248.46" width="16.80" height="2.14" fill="#fecf8a"/>
<rect x="126.10" y="250.31" width="16.80" height="2.14" fill="#f9cb87"/>
<rect x="126.10" y="252.15" width="16.80" height="2.14" fill="#f9e4a5"/>
<rect x="126.10" y="253.99" width="16.80" height="2.14" fill="#fde7a7"/>
<rect x="126.10" y="255.83" width="16.80" height="2.14" fill="#f6e1a2"/>
<rect x="126.10" y="257.67" width="16.80" height="2.14" fill="#fee8aa"/>
<rect x="126.10" y="259.51" width="16.80" height="2.14" fill="#87bddd"/>
<rect x="126.10" y="261.35" width="16.80" height="2.14" fill="#80b6d6"/>
<rect x="126.10" y="263.19" width="16.80" height="2.14" fill="#84bcdd"/>
<rect x="126.10" y="265.04" width="16.80" height="2.14" fill="#86bddd"/>
<rect x="126.10" y="266.88" width="16.80" height="2.14" fill="#83bbdc"/>
<rect x="126.10" y="268.72" width="16.80" height="2.14" fill="#86bddd"/>
<rect x="126.10" y="270.56" width="16.80" height="2.14" fill="#86bddd"/>
<rect x="126.10" y="272.40" width="16.80" height="2.14" fill="#81b8d8"/>
<rect x="126.10" y="274.24" width="16.80" height="2.14" fill="#86bddd"/>
<rect x="126.10" y="276.08" width="16.80" height="2.14" fill="#81b8d8"/>
<rect x="126.10" y="277.92" width="16.80" height="2.14" fill="#85bcdd"/>
<rect x="126.10" y="279.76" width="16.80" height="2.14" fill="#83bbdc"/>
<rect x="126.10" y="281.61" width="16.80" height="2.14" fill="#86bddd"/>
<rect x="126.10" y="283.45" width="16.80" height="2.14" fill="#80b6d6"/>
<rect x="126.10" y="285.29" width="16.80" height="2.14" fill="#87bddd"/>
<rect x="126.10" y="287.13" width="16.80" height="2.14" fill="#82b9d9"/>
<rect x="126.10" y="288.97" width="16.80" height="2.14" fill="#7fb6d5"/>
<rect x="126.10" y="290.81" width="16.80" height="2.14" fill="#85bcdd"/>
<rect x="126.10" y="292.65" width="16.80" height="2.14" fill="#81b8d8"/>
<rect x="126.10" y="294.49" width="16.80" height="2.14" fill="#84bcdd"/>
<rect x="126.10" y="296.34" width="16.80" height="2.14" fill="#82b9da"/>
<rect x="126.10" y="298.18" width="16.80" height="2.14" fill="#85bcdd"/>
<rect x="126.10" y="300.02" width="16.80" height="2.14" fill="#85bcdd"/>
<rect x="126.10" y="301.86" width="16.80" height="2.14" fill="#85bcdd"/>
<rect x="126.10" y="303.70" width="16.80" height="2.14" fill="#80b7d7"/>
<rect x="126.10" y="305.54" width="16.80" height="2.14" fill="#83bbdc"/>
<rect x="126.10" y="307.38" width="16.80" height="2.14" fill="#a8d6e9"/>
<rect x="126.10" y="309.22" width="16.80" height="2.14" fill="#95c9e1"/>
<rect x="126.10" y="311.06" width="16.80" height="2.14" fill="#8dc2da"/>
<rect x="126.10" y="312.91" width="16.80" height="2.14" fill="#8fc4dc"/>
<rect x="126.10" y="314.75" width="16.80" height="2.14" fill="#91c7e0"/>
<rect x="126.10" y="316.59" width="16.80" height="2.14" fill="#93c8e1"/>
<rect x="126.10" y="318.43" width="16.80" height="2.14" fill="#b7ddea"/>
<rect x="126.10" y="320.27" width="16.80" height="2.14" fill="#b9e0ed"/>
<rect x="126.10" y="322.11" width="16.80" height="2.14" fill="#62a4ce"/>
<rect x="126.10" y="323.95" width="16.80" height="2.14" fill="#65a6cf"/>
<rect x="126.10" y="325.79" width="16.80" height="2.14" fill="#60a3ce"/>
<rect x="126.10" y="327.64" width="16.80" height="2.14" fill="#8cbfdc"/>
<rect x="126.10" y="329.48" width="16.80" height="2.14" fill="#89bcd8"/>
<rect x="126.10" y="331.32" width="16.80" height="2.14" fill="#8dc1de"/>
<rect x="126.10" y="333.16" width="16.80" height="2.14" fill="#8bbfdb"/>
<rect x="126.10" y="335.00" width="16.80" height="2.14" fill="#89bcd8"/>
<rect x="126.10" y="336.84" width="16.80" height="2.14" fill="#8ec2df"/>
<rect x="126.10" y="338.68" width="16.80" height="2.14" fill="#91c4e0"/>
<rect x="126.10" y="340.52" width="16.80" height="2.14" fill="#91c4e0"/>
<rect x="126.10" y="342.36" width="16.80" height="2.14" fill="#8cc0dd"/>
<rect x="126.10" y="344.21" width="16.80" height="2.14" fill="#91c3df"/>
<rect x="126.10" y="346.05" width="16.80" height="2.14" fill="#91c3df"/>
<rect x="126.10" y="347.89" width="16.80" height="2.14" fill="#89bcd8"/>
<rect x="126.10" y="349.73" width="16.80" height="2.14" fill="#9ccae0"/>
<rect x="126.10" y="351.57" width="16.80" height="2.14" fill="#a2d0e7"/>
<rect x="126.10" y="353.41" width="16.80" height="2.14" fill="#549bc9"/>
<rect x="126.10" y="355.25" width="16.80" height="2.14" fill="#559cca"/>
<rect x="126.10" y="357.09" width="16.80" height="2.14" fill="#a9d7ea"/>
<rect x="126.10" y="358.94" width="16.80" height="2.14" fill="#a9d7ea"/>
<rect x="126.10" y="360.78" width="16.80" height="2.14" fill="#a6d3e6"/>
<rect x="126.10" y="362.62" width="16.80" height="2.14" fill="#a4d1e3"/>
<rect x="126.10" y="364.46" width="16.80" height="2.14" fill="#a7d4e7"/>
<rect x="126.10" y="366.30" width="16.80" height="2.14" fill="#81b9dc"/>
<rect x="126.10" y="368.14" width="16.80" height="2.14" fill="#85bbdd"/>
<rect x="126.10" y="369.98" width="16.80" height="2.14" fill="#81b8db"/>
<rect x="126.10" y="371.82" width="16.80" height="2.14" fill="#7eb5d7"/>
<rect x="126.10" y="373.66" width="16.80" height="2.14" fill="#85bcde"/>
<rect x="126.10" y="375.51" width="16.80" height="2.14" fill="#62a4ce"/>
<rect x="126.10" y="377.35" width="16.80" height="2.14" fill="#5fa1cc"/>
<rect x="126.10" y="379.19" width="16.80" height="2.14" fill="#a2d0e7"/>
<rect x="126.10" y="381.03" width="16.80" height="2.14" fill="#a0cee5"/>
<rect x="126.10" y="382.87" width="16.80" height="2.14" fill="#9fcee4"/>
<rect x="126.10" y="384.71" width="16.80" height="2.14" fill="#9ccae0"/>
<rect x="126.10" y="386.55" width="16.80" height="2.14" fill="#9fcde4"/>
<rect x="126.10" y="388.39" width="16.80" height="2.14" fill="#9fcde4"/>
<rect x="126.10" y="390.24" width="16.80" height="2.14" fill="#ddf0f0"/>
<rect x="126.10" y="392.08" width="16.80" height="2.14" fill="#def1f1"/>
<rect x="126.10" y="393.92" width="16.80" height="2.14" fill="#e0f3f3"/>
<rect x="126.10" y="395.76" width="16.80" height="2.14" fill="#dbeded"/>
</g>
<line x1="63.5" y1="210.9" x2="113.7" y2="210.9" stroke="#444" stroke-width="0.8"/>
<line x1="63.5" y1="210.9" x2="63.5" y2="223.1" stroke="#444" stroke-width="0.8"/>
<line x1="113.7" y1="210.9" x2="113.7" y2="220.8" stroke="#444" stroke-width="0.8"/>
<line x1="51.9" y1="223.1" x2="76.2" y2="223.1" stroke="#444" stroke-width="0.8"/>
<line x1="51.9" y1="223.1" x2="51.9" y2="241.0" stroke="#444" stroke-width="0.8"/>
<line x1="76.2" y1="223.1" x2="76.2" y2="227.3" stroke="#444" stroke-width="0.8"/>
<line x1="68.3" y1="227.3" x2="84.8" y2="227.3" stroke="#444" stroke-width="0.8"/>
<line x1="68.3" y1="227.3" x2="68.3" y2="241.0" stroke="#444" stroke-width="0.8"/>
<line x1="84.8" y1="227.3" x2="84.8" y2="241.0" stroke="#444" stroke-width="0.8"/>
<line x1="101.3" y1="220.8" x2="126.4" y2="220.8" stroke="#444" stroke-width="0.8"/>
<line x1="101.3" y1="220.8" x2="101.3" y2="241.0" stroke="#444" stroke-width="0.8"/>
<line x1="126.4" y1="220.8" x2="126.4" y2="231.2" stroke="#444" stroke-width="0.8"/>
<line x1="117.8" y1="231.2" x2="134.3" y2="231.2" stroke="#444" stroke-width="0.8"/>
<line x1="117.8" y1="231.2" x2="117.8" y2="241.0" stroke="#444" stroke-width="0.8"/>
<line x1="134.3" y1="231.2" x2="134.3" y2="241.0" stroke="#444" stroke-width="0.8"/>
<line x1="33.1" y1="242.0" x2="42.8" y2="242.0" stroke="#444" stroke-width="0.6"/>
<line x1="35.2" y1="243.9" x2="42.8" y2="243.9" stroke="#444" stroke-width="0.6"/>
<line x1="35.2" y1="245.7" x2="42.8" y2="245.7" stroke="#444" stroke-width="0.6"/>
<line x1="35.2" y1="243.9" x2="35.2" y2="245.7" stroke="#444" stroke-width="0.6"/>
<line x1="33.1" y1="244.8" x2="35.2" y2="244.8" stroke="#444" stroke-width="0.6"/>
<line x1="33.1" y1="242.0" x2="33.1" y2="244.8" stroke="#444" stroke-width="0.6"/>
<line x1="24.6" y1="243.4" x2="33.1" y2="243.4" stroke="#444" stroke-width="0.6"/>
<line x1="37.0" y1="247.5" x2="42.8" y2="247.5" stroke="#444" stroke-width="0.6"/>
<line x1="37.0" y1="249.4" x2="42.8" y2="249.4" stroke="#444" stroke-width="0.6"/>
<line x1="37.0" y1="247.5" x2="37.0" y2="249.4" stroke="#444" stroke-width="0.6"/>
<line x1="30.4" y1="248.5" x2="37.0" y2="248.5" stroke="#444" stroke-width="0.6"/>
<line x1="36.1" y1="251.2" x2="42.8" y2="251.2" stroke="#444" stroke-width="0.6"/>
<line x1="36.1" y1="253.1" x2="42.8" y2="253.1" stroke="#444" stroke-width="0.6"/>
<line x1="36.1" y1="251.2" x2="36.1" y2="253.1" stroke="#444" stroke-width="0.6"/>
<line x1="34.3" y1="252.1" x2="36.1" y2="252.1" stroke="#444" stroke-width="0.6"/>
<line x1="37.9" y1="254.9" x2="42.8" y2="254.9" stroke="#444" stroke-width="0.6"/>
<line x1="40.6" y1="256.8" x2="42.8" y2="256.8" stroke="#444" stroke-width="0.6"/>
<line x1="40.6" y1="258.6" x2="42.8" y2="258.6" stroke="#444" stroke-width="0.6"/>
<line x1="40.6" y1="256.8" x2="40.6" y2="258.6" stroke="#444" stroke-width="0.6"/>
<line x1="37.9" y1="257.7" x2="40.6" y2="257.7" stroke="#444" stroke-width="0.6"/>
<line x1="37.9" y1="254.9" x2="37.9" y2="257.7" stroke="#444" stroke-width="0.6"/>
<line x1="34.3" y1="256.3" x2="37.9" y2="256.3" stroke="#444" stroke-width="0.6"/>
<line x1="34.3" y1="252.1" x2="34.3" y2="256.3" stroke="#444" stroke-width="0.6"/>
<line x1="30.4" y1="254.2" x2="34.3" y2="254.2" stroke="#444" stroke-width="0.6"/>
<line x1="30.4" y1="248.5" x2="30.4" y2="254.2" stroke="#444" stroke-width="0.6"/>
<line x1="24.6" y1="251.3" x2="30.4" y2="251.3" stroke="#444" stroke-width="0.6"/>
<line x1="24.6" y1="243.4" x2="24.6" y2="251.3" stroke="#444" stroke-width="0.6"/>
<line x1="9.8" y1="247.4" x2="24.6" y2="247.4" stroke="#444" stroke-width="0.6"/>
<line x1="35.4" y1="260.4" x2="42.8" y2="260.4" stroke="#444" stroke-width="0.6"/>
<line x1="39.2" y1="262.3" x2="42.8" y2="262.3" stroke="#444" stroke-width="0.6"/>
<line x1="40.2" y1="264.1" x2="42.8" y2="264.1" stroke="#444" stroke-width="0.6"/>
<line x1="40.2" y1="266.0" x2="42.8" y2="266.0" stroke="#444" stroke-width="0.6"/>
<line x1="40.2" y1="264.1" x2="40.2" y2="266.0" stroke="#444" stroke-width="0.6"/>
<line x1="39.2" y1="265.0" x2="40.2" y2="265.0" stroke="#444" stroke-width="0.6"/>
<line x1="39.2" y1="262.3" x2="39.2" y2="265.0" stroke="#444" stroke-width="0.6"/>
<line x1="35.4" y1="263.7" x2="39.2" y2="263.7" stroke="#444" stroke-width="0.6"/>
<line x1="35.4" y1="260.4" x2="35.4" y2="263.7" stroke="#444" stroke-width="0.6"/>
<line x1="32.3" y1="262.0" x2="35.4" y2="262.0" stroke="#444" stroke-width="0.6"/>
<line x1="37.6" y1="267.8" x2="42.8" y2="267.8" stroke="#444" stroke-width="0.6"/>
<line x1="39.3" y1="269.6" x2="42.8" y2="269.6" stroke="#444" stroke-width="0.6"/>
<line x1="41.1" y1="271.5" x2="42.8" y2="271.5" stroke="#444" stroke-width="0.6"/>
<line x1="41.6" y1="273.3" x2="42.8" y2="273.3" stroke="#444" stroke-width="0.6"/>
<line x1="41.6" y1="275.2" x2="42.8" y2="275.2" stroke="#444" stroke-width="0.6"/>
<line x1="41.6" y1="273.3" x2="41.6" y2="275.2" stroke="#444" stroke-width="0.6"/>
<line x1="41.1" y1="274.2" x2="41.6" y2="274.2" stroke="#444" stroke-width="0.6"/>
<line x1="41.1" y1="271.5" x2="41.1" y2="274.2" stroke="#444" stroke-width="0.6"/>
<line x1="39.3" y1="272.9" x2="41.1" y2="272.9" stroke="#444" stroke-width="0.6"/>
<line x1="39.3" y1="269.6" x2="39.3" y2="272.9" stroke="#444" stroke-width="0.6"/>
<line x1="37.6" y1="271.2" x2="39.3" y2="271.2" stroke="#444" stroke-width="0.6"/>
<line x1="37.6" y1="267.8" x2="37.6" y2="271.2" stroke="#444" stroke-width="0.6"/>
<line x1="35.8" y1="269.5" x2="37.6" y2="269.5" stroke="#444" stroke-width="0.6"/>
<line x1="39.7" y1="277.0" x2="42.8" y2="277.0" stroke="#444" stroke-width="0.6"/>
<line x1="39.7" y1="278.8" x2="42.8" y2="278.8" stroke="#444" stroke-width="0.6"/>
<line x1="39.7" y1="277.0" x2="39.7" y2="278.8" stroke="#444" stroke-width="0.6"/>
<line x1="37.1" y1="277.9" x2="39.7" y2="277.9" stroke="#444" stroke-width="0.6"/>
<line x1="38.3" y1="280.7" x2="42.8" y2="280.7" stroke="#444" stroke-width="0.6"/>
<line x1="40.0" y1="282.5" x2="42.8" y2="282.5" stroke="#444" stroke-width="0.6"/>
<line x1="40.6" y1="284.4" x2="42.8" y2="284.4" stroke="#444" stroke-width="0.6"/>
<line x1="40.6" y1="286.2" x2="42.8" y2="286.2" stroke="#444" stroke-width="0.6"/>
<line x1="40.6" y1="284.4" x2="40.6" y2="286.2" stroke="#444" stroke-width="0.6"/>
<line x1="40.0" y1="285.3" x2="40.6" y2="285.3" stroke="#444" stroke-width="0.6"/>
<line x1="40.0" y1="282.5" x2="40.0" y2="285.3" stroke="#444" stroke-width="0.6"/>
<line x1="38.3" y1="283.9" x2="40.0" y2="283.9" stroke="#444" stroke-width="0.6"/>
<line x1="38.3" y1="280.7" x2="38.3" y2="283.9" stroke="#444" stroke-width="0.6"/>
<line x1="37.1" y1="282.3" x2="38.3" y2="282.3" stroke="#444" stroke-width="0.6"/>
<line x1="37.1" y1="277.9" x2="37.1" y2="282.3" stroke="#444" stroke-width="0.6"/>
<line x1="35.8" y1="280.1" x2="37.1" y2="280.1" stroke="#444" stroke-width="0.6"/>
<line x1="35.8" y1="269.5" x2="35.8" y2="280.1" stroke="#444" stroke-width="0.6"/>
<line x1="32.3" y1="274.8" x2="35.8" y2="274.8" stroke="#444" stroke-width="0.6"/>
<line x1="32.3" y1="262.0" x2="32.3" y2="274.8" stroke="#444" stroke-width="0.6"/>
<line x1="29.3" y1="268.4" x2="32.3" y2="268.4" stroke="#444" stroke-width="0.6"/>
<line x1="37.6" y1="288.1" x2="42.8" y2="288.1" stroke="#444" stroke-width="0.6"/>
<line x1="37.6" y1="289.9" x2="42.8" y2="289.9" stroke="#444" stroke-width="0.6"/>
<line x1="37.6" y1="288.1" x2="37.6" y2="289.9" stroke="#444" stroke-width="0.6"/>
<line x1="34.7" y1="289.0" x2="37.6" y2="289.0" stroke="#444" stroke-width="0.6"/>
<line x1="38.5" y1="291.7" x2="42.8" y2="291.7" stroke="#444" stroke-width="0.6"/>
<line x1="40.2" y1="293.6" x2="42.8" y2="293.6" stroke="#444" stroke-width="0.6"/>
<line x1="40.2" y1="295.4" x2="42.8" y2="295.4" stroke="#444" stroke-width="0.6"/>
<line x1="40.2" y1="293.6" x2="40.2" y2="295.4" stroke="#444" stroke-width="0.6"/>
<line x1="38.5" y1="294.5" x2="40.2" y2="294.5" stroke="#444" stroke-width="0.6"/>
<line x1="38.5" y1="291.7" x2="38.5" y2="294.5" stroke="#444" stroke-width="0.6"/>
<line x1="34.7" y1="293.1" x2="38.5" y2="293.1" stroke="#444" stroke-width="0.6"/>
<line x1="34.7" y1="289.0" x2="34.7" y2="293.1" stroke="#444" stroke-width="0.6"/>
<line x1="31.2" y1="291.0" x2="34.7" y2="291.0" stroke="#444" stroke-width="0.6"/>
<line x1="36.1" y1="297.3" x2="42.8" y2="297.3" stroke="#444" stroke-width="0.6"/>
<line x1="39.4" y1="299.1" x2="42.8" y2="299.1" stroke="#444" stroke-width="0.6"/>
<line x1="39.4" y1="300.9" x2="42.8" y2="300.9" stroke="#444" stroke-width="0.6"/>
<line x1="39.4" y1="299.1" x2="39.4" y2="300.9" stroke="#444" stroke-width="0.6"/>
<line x1="36.1" y1="300.0" x2="39.4" y2="300.0" stroke="#444" stroke-width="0.6"/>
<line x1="36.1" y1="297.3" x2="36.1" y2="300.0" stroke="#444" stroke-width="0.6"/>
<line x1="33.0" y1="298.6" x2="36.1" y2="298.6" stroke="#444" stroke-width="0.6"/>
<line x1="35.0" y1="302.8" x2="42.8" y2="302.8" stroke="#444" stroke-width="0.6"/>
<line x1="37.6" y1="304.6" x2="42.8" y2="304.6" stroke="#444" stroke-width="0.6"/>
<line x1="37.6" y1="306.5" x2="42.8" y2="306.5" stroke="#444" stroke-width="0.6"/>
<line x1="37.6" y1="304.6" x2="37.6" y2="306.5" stroke="#444" stroke-width="0.6"/>
<line x1="35.0" y1="305.5" x2="37.6" y2="305.5" stroke="#444" stroke-width="0.6"/>
<line x1="35.0" y1="302.8" x2="35.0" y2="305.5" stroke="#444" stroke-width="0.6"/>
<line x1="33.0" y1="304.2" x2="35.0" y2="304.2" stroke="#444" stroke-width="0.6"/>
<line x1="33.0" y1="298.6" x2="33.0" y2="304.2" stroke="#444" stroke-width="0.6"/>
<line x1="31.2" y1="301.4" x2="33.0" y2="301.4" stroke="#444" stroke-width="0.6"/>
<line x1="31.2" y1="291.0" x2="31.2" y2="301.4" stroke="#444" stroke-width="0.6"/>
<line x1="29.3" y1="296.2" x2="31.2" y2="296.2" stroke="#444" stroke-width="0.6"/>
<line x1="29.3" y1="268.4" x2="29.3" y2="296.2" stroke="#444" stroke-width="0.6"/>
<line x1="23.6" y1="282.3" x2="29.3" y2="282.3" stroke="#444" stroke-width="0.6"/>
<line x1="38.1" y1="308.3" x2="42.8" y2="308.3" stroke="#444" stroke-width="0.6"/>
<line x1="40.4" y1="310.1" x2="42.8" y2="310.1" stroke="#444" stroke-width="0.6"/>
<line x1="40.4" y1="312.0" x2="42.8" y2="312.0" stroke="#444" stroke-width="0.6"/>
<line x1="40.4" y1="310.1" x2="40.4" y2="312.0" stroke="#444" stroke-width="0.6"/>
<line x1="38.1" y1="311.1" x2="40.4" y2="311.1" stroke="#444" stroke-width="0.6"/>
<line x1="38.1" y1="308.3" x2="38.1" y2="311.1" stroke="#444" stroke-width="0.6"/>
<line x1="34.4" y1="309.7" x2="38.1" y2="309.7" stroke="#444" stroke-width="0.6"/>
<line x1="38.0" y1="313.8" x2="42.8" y2="313.8" stroke="#444" stroke-width="0.6"/>
<line x1="38.0" y1="315.7" x2="42.8" y2="315.7" stroke="#444" stroke-width="0.6"/>
<line x1="38.0" y1="313.8" x2="38.0" y2="315.7" stroke="#444" stroke-width="0.6"/>
<line x1="35.5" y1="314.7" x2="38.0" y2="314.7" stroke="#444" stroke-width="0.6"/>
<line x1="38.1" y1="317.5" x2="42.8" y2="317.5" stroke="#444" stroke-width="0.6"/>
<line x1="38.1" y1="319.4" x2="42.8" y2="319.4" stroke="#444" stroke-width="0.6"/>
<line x1="38.1" y1="317.5" x2="38.1" y2="319.4" stroke="#444" stroke-width="0.6"/>
<line x1="35.5" y1="318.4" x2="38.1" y2="318.4" stroke="#444" stroke-width="0.6"/>
<line x1="35.5" y1="314.7" x2="35.5" y2="318.4" stroke="#444" stroke-width="0.6"/>
<line x1="34.4" y1="316.6" x2="35.5" y2="316.6" stroke="#444" stroke-width="0.6"/>
<line x1="34.4" y1="309.7" x2="34.4" y2="316.6" stroke="#444" stroke-width="0.6"/>
<line x1="31.5" y1="313.1" x2="34.4" y2="313.1" stroke="#444" stroke-width="0.6"/>
<line x1="39.3" y1="321.2" x2="42.8" y2="321.2" stroke="#444" stroke-width="0.6"/>
<line x1="39.3" y1="323.0" x2="42.8" y2="323.0" stroke="#444" stroke-width="0.6"/>
<line x1="39.3" y1="321.2" x2="39.3" y2="323.0" stroke="#444" stroke-width="0.6"/>
<line x1="36.1" y1="322.1" x2="39.3" y2="322.1" stroke="#444" stroke-width="0.6"/>
<line x1="39.8" y1="324.9" x2="42.8" y2="324.9" stroke="#444" stroke-width="0.6"/>
<line x1="40.5" y1="326.7" x2="42.8" y2="326.7" stroke="#444" stroke-width="0.6"/>
<line x1="40.5" y1="328.6" x2="42.8" y2="328.6" stroke="#444" stroke-width="0.6"/>
<line x1="40.5" y1="326.7" x2="40.5" y2="328.6" stroke="#444" stroke-width="0.6"/>
<line x1="39.8" y1="327.6" x2="40.5" y2="327.6" stroke="#444" stroke-width="0.6"/>
<line x1="39.8" y1="324.9" x2="39.8" y2="327.6" stroke="#444" stroke-width="0.6"/>
<line x1="36.1" y1="326.3" x2="39.8" y2="326.3" stroke="#444" stroke-width="0.6"/>
<line x1="36.1" y1="322.1" x2="36.1" y2="326.3" stroke="#444" stroke-width="0.6"/>
<line x1="35.0" y1="324.2" x2="36.1" y2="324.2" stroke="#444" stroke-width="0.6"/>
<line x1="39.2" y1="330.4" x2="42.8" y2="330.4" stroke="#444" stroke-width="0.6"/>
<line x1="40.5" y1="332.2" x2="42.8" y2="332.2" stroke="#444" stroke-width="0.6"/>
<line x1="40.5" y1="334.1" x2="42.8" y2="334.1" stroke="#444" stroke-width="0.6"/>
<line x1="40.5" y1="332.2" x2="40.5" y2="334.1" stroke="#444" stroke-width="0.6"/>
<line x1="39.2" y1="333.2" x2="40.5" y2="333.2" stroke="#444" stroke-width="0.6"/>
<line x1="39.2" y1="330.4" x2="39.2" y2="333.2" stroke="#444" stroke-width="0.6"/>
<line x1="35.0" y1="331.8" x2="39.2" y2="331.8" stroke="#444" stroke-width="0.6"/>
<line x1="35.0" y1="324.2" x2="35.0" y2="331.8" stroke="#444" stroke-width="0.6"/>
<line x1="31.5" y1="328.0" x2="35.0" y2="328.0" stroke="#444" stroke-width="0.6"/>
<line x1="31.5" y1="313.1" x2="31.5" y2="328.0" stroke="#444" stroke-width="0.6"/>
<line x1="26.8" y1="320.6" x2="31.5" y2="320.6" stroke="#444" stroke-width="0.6"/>
<line x1="38.4" y1="335.9" x2="42.8" y2="335.9" stroke="#444" stroke-width="0.6"/>
<line x1="40.7" y1="337.8" x2="42.8" y2="337.8" stroke="#444" stroke-width="0.6"/>
<line x1="40.7" y1="339.6" x2="42.8" y2="339.6" stroke="#444" stroke-width="0.6"/>
<line x1="40.7" y1="337.8" x2="40.7" y2="339.6" stroke="#444" stroke-width="0.6"/>
<line x1="38.4" y1="338.7" x2="40.7" y2="338.7" stroke="#444" stroke-width="0.6"/>
<line x1="38.4" y1="335.9" x2="38.4" y2="338.7" stroke="#444" stroke-width="0.6"/>
<line x1="34.7" y1="337.3" x2="38.4" y2="337.3" stroke="#444" stroke-width="0.6"/>
<line x1="38.6" y1="341.4" x2="42.8" y2="341.4" stroke="#444" stroke-width="0.6"/>
<line x1="38.6" y1="343.3" x2="42.8" y2="343.3" stroke="#444" stroke-width="0.6"/>
<line x1="38.6" y1="341.4" x2="38.6" y2="343.3" stroke="#444" stroke-width="0.6"/>
<line x1="34.7" y1="342.4" x2="38.6" y2="342.4" stroke="#444" stroke-width="0.6"/>
<line x1="34.7" y1="337.3" x2="34.7" y2="342.4" stroke="#444" stroke-width="0.6"/>
<line x1="33.4" y1="339.8" x2="34.7" y2="339.8" stroke="#444" stroke-width="0.6"/>
<line x1="35.6" y1="345.1" x2="42.8" y2="345.1" stroke="#444" stroke-width="0.6"/>
<line x1="37.1" y1="347.0" x2="42.8" y2="347.0" stroke="#444" stroke-width="0.6"/>
<line x1="37.1" y1="348.8" x2="42.8" y2="348.8" stroke="#444" stroke-width="0.6"/>
<line x1="37.1" y1="347.0" x2="37.1" y2="348.8" stroke="#444" stroke-width="0.6"/>
<line x1="35.6" y1="347.9" x2="37.1" y2="347.9" stroke="#444" stroke-width="0.6"/>
<line x1="35.6" y1="345.1" x2="35.6" y2="347.9" stroke="#444" stroke-width="0.6"/>
<line x1="33.4" y1="346.5" x2="35.6" y2="346.5" stroke="#444" stroke-width="0.6"/>
<line x1="33.4" y1="339.8" x2="33.4" y2="346.5" stroke="#444" stroke-width="0.6"/>
<line x1="31.6" y1="343.2" x2="33.4" y2="343.2" stroke="#444" stroke-width="0.6"/>
<line x1="39.9" y1="350.7" x2="42.8" y2="350.7" stroke="#444" stroke-width="0.6"/>
<line x1="40.7" y1="352.5" x2="42.8" y2="352.5" stroke="#444" stroke-width="0.6"/>
<line x1="40.7" y1="354.3" x2="42.8" y2="354.3" stroke="#444" stroke-width="0.6"/>
<line x1="40.7" y1="352.5" x2="40.7" y2="354.3" stroke="#444" stroke-width="0.6"/>
<line x1="39.9" y1="353.4" x2="40.7" y2="353.4" stroke="#444" stroke-width="0.6"/>
<line x1="39.9" y1="350.7" x2="39.9" y2="353.4" stroke="#444" stroke-width="0.6"/>
<line x1="37.2" y1="352.0" x2="39.9" y2="352.0" stroke="#444" stroke-width="0.6"/>
<line x1="38.1" y1="356.2" x2="42.8" y2="356.2" stroke="#444" stroke-width="0.6"/>
<line x1="40.4" y1="358.0" x2="42.8" y2="358.0" stroke="#444" stroke-width="0.6"/>
<line x1="41.3" y1="359.9" x2="42.8" y2="359.9" stroke="#444" stroke-width="0.6"/>
<line x1="41.3" y1="361.7" x2="42.8" y2="361.7" stroke="#444" stroke-width="0.6"/>
<line x1="41.3" y1="359.9" x2="41.3" y2="361.7" stroke="#444" stroke-width="0.6"/>
<line x1="40.4" y1="360.8" x2="41.3" y2="360.8" stroke="#444" stroke-width="0.6"/>
<line x1="40.4" y1="358.0" x2="40.4" y2="360.8" stroke="#444" stroke-width="0.6"/>
<line x1="38.1" y1="359.4" x2="40.4" y2="359.4" stroke="#444" stroke-width="0.6"/>
<line x1="38.1" y1="356.2" x2="38.1" y2="359.4" stroke="#444" stroke-width="0.6"/>
<line x1="37.2" y1="357.8" x2="38.1" y2="357.8" stroke="#444" stroke-width="0.6"/>
<line x1="37.2" y1="352.0" x2="37.2" y2="357.8" stroke="#444" stroke-width="0.6"/>
<line x1="35.4" y1="354.9" x2="37.2" y2="354.9" stroke="#444" stroke-width="0.6"/>
<line x1="39.8" y1="363.5" x2="42.8" y2="363.5" stroke="#444" stroke-width="0.6"/>
<line x1="39.8" y1="365.4" x2="42.8" y2="365.4" stroke="#444" stroke-width="0.6"/>
<line x1="39.8" y1="363.5" x2="39.8" y2="365.4" stroke="#444" stroke-width="0.6"/>
<line x1="36.8" y1="364.5" x2="39.8" y2="364.5" stroke="#444" stroke-width="0.6"/>
<line x1="39.2" y1="367.2" x2="42.8" y2="367.2" stroke="#444" stroke-width="0.6"/>
<line x1="39.2" y1="369.1" x2="42.8" y2="369.1" stroke="#444" stroke-width="0.6"/>
<line x1="39.2" y1="367.2" x2="39.2" y2="369.1" stroke="#444" stroke-width="0.6"/>
<line x1="38.2" y1="368.1" x2="39.2" y2="368.1" stroke="#444" stroke-width="0.6"/>
<line x1="40.2" y1="370.9" x2="42.8" y2="370.9" stroke="#444" stroke-width="0.6"/>
<line x1="40.9" y1="372.7" x2="42.8" y2="372.7" stroke="#444" stroke-width="0.6"/>
<line x1="40.9" y1="374.6" x2="42.8" y2="374.6" stroke="#444" stroke-width="0.6"/>
<line x1="40.9" y1="372.7" x2="40.9" y2="374.6" stroke="#444" stroke-width="0.6"/>
<line x1="40.2" y1="373.7" x2="40.9" y2="373.7" stroke="#444" stroke-width="0.6"/>
<line x1="40.2" y1="370.9" x2="40.2" y2="373.7" stroke="#444" stroke-width="0.6"/>
<line x1="38.2" y1="372.3" x2="40.2" y2="372.3" stroke="#444" stroke-width="0.6"/>
<line x1="38.2" y1="368.1" x2="38.2" y2="372.3" stroke="#444" stroke-width="0.6"/>
<line x1="36.8" y1="370.2" x2="38.2" y2="370.2" stroke="#444" stroke-width="0.6"/>
<line x1="36.8" y1="364.5" x2="36.8" y2="370.2" stroke="#444" stroke-width="0.6"/>
<line x1="35.4" y1="367.3" x2="36.8" y2="367.3" stroke="#444" stroke-width="0.6"/>
<line x1="35.4" y1="354.9" x2="35.4" y2="367.3" stroke="#444" stroke-width="0.6"/>
<line x1="31.6" y1="361.1" x2="35.4" y2="361.1" stroke="#444" stroke-width="0.6"/>
<line x1="31.6" y1="343.2" x2="31.6" y2="361.1" stroke="#444" stroke-width="0.6"/>
<line x1="26.8" y1="352.1" x2="31.6" y2="352.1" stroke="#444" stroke-width="0.6"/>
<line x1="26.8" y1="320.6" x2="26.8" y2="352.1" stroke="#444" stroke-width="0.6"/>
<line x1="23.6" y1="336.4" x2="26.8" y2="336.4" stroke="#444" stroke-width="0.6"/>
<line x1="23.6" y1="282.3" x2="23.6" y2="336.4" stroke="#444" stroke-width="0.6"/>
<line x1="16.7" y1="309.3" x2="23.6" y2="309.3" stroke="#444" stroke-width="0.6"/>
<line x1="33.4" y1="376.4" x2="42.8" y2="376.4" stroke="#444" stroke-width="0.6"/>
<line x1="33.4" y1="378.3" x2="42.8" y2="378.3" stroke="#444" stroke-width="0.6"/>
<line x1="33.4" y1="376.4" x2="33.4" y2="378.3" stroke="#444" stroke-width="0.6"/>
<line x1="28.3" y1="377.3" x2="33.4" y2="377.3" stroke="#444" stroke-width="0.6"/>
<line x1="36.8" y1="380.1" x2="42.8" y2="380.1" stroke="#444" stroke-width="0.6"/>
<line x1="36.8" y1="382.0" x2="42.8" y2="382.0" stroke="#444" stroke-width="0.6"/>
<line x1="36.8" y1="380.1" x2="36.8" y2="382.0" stroke="#444" stroke-width="0.6"/>
<line x1="31.7" y1="381.0" x2="36.8" y2="381.0" stroke="#444" stroke-width="0.6"/>
<line x1="35.5" y1="383.8" x2="42.8" y2="383.8" stroke="#444" stroke-width="0.6"/>
<line x1="35.5" y1="385.6" x2="42.8" y2="385.6" stroke="#444" stroke-width="0.6"/>
<line x1="35.5" y1="383.8" x2="35.5" y2="385.6" stroke="#444" stroke-width="0.6"/>
<line x1="31.7" y1="384.7" x2="35.5" y2="384.7" stroke="#444" stroke-width="0.6"/>
<line x1="31.7" y1="381.0" x2="31.7" y2="384.7" stroke="#444" stroke-width="0.6"/>
<line x1="28.3" y1="382.9" x2="31.7" y2="382.9" stroke="#444" stroke-width="0.6"/>
<line x1="28.3" y1="377.3" x2="28.3" y2="382.9" stroke="#444" stroke-width="0.6"/>
<line x1="26.0" y1="380.1" x2="28.3" y2="380.1" stroke="#444" stroke-width="0.6"/>
<line x1="32.1" y1="387.5" x2="42.8" y2="387.5" stroke="#444" stroke-width="0.6"/>
<line x1="34.9" y1="389.3" x2="42.8" y2="389.3" stroke="#444" stroke-width="0.6"/>
<line x1="34.9" y1="391.2" x2="42.8" y2="391.2" stroke="#444" stroke-width="0.6"/>
<line x1="34.9" y1="389.3" x2="34.9" y2="391.2" stroke="#444" stroke-width="0.6"/>
<line x1="32.1" y1="390.2" x2="34.9" y2="390.2" stroke="#444" stroke-width="0.6"/>
<line x1="32.1" y1="387.5" x2="32.1" y2="390.2" stroke="#444" stroke-width="0.6"/>
<line x1="29.1" y1="388.9" x2="32.1" y2="388.9" stroke="#444" stroke-width="0.6"/>
<line x1="32.7" y1="393.0" x2="42.8" y2="393.0" stroke="#444" stroke-width="0.6"/>
<line x1="35.7" y1="394.8" x2="42.8" y2="394.8" stroke="#444" stroke-width="0.6"/>
<line x1="35.7" y1="396.7" x2="42.8" y2="396.7" stroke="#444" stroke-width="0.6"/>
<line x1="35.7" y1="394.8" x2="35.7" y2="396.7" stroke="#444" stroke-width="0.6"/>
<line x1="32.7" y1="395.8" x2="35.7" y2="395.8" stroke="#444" stroke-width="0.6"/>
<line x1="32.7" y1="393.0" x2="32.7" y2="395.8" stroke="#444" stroke-width="0.6"/>
<line x1="29.1" y1="394.4" x2="32.7" y2="394.4" stroke="#444" stroke-width="0.6"/>
<line x1="29.1" y1="388.9" x2="29.1" y2="394.4" stroke="#444" stroke-width="0.6"/>
<line x1="26.0" y1="391.6" x2="29.1" y2="391.6" stroke="#444" stroke-width="0.6"/>
<line x1="26.0" y1="380.1" x2="26.0" y2="391.6" stroke="#444" stroke-width="0.6"/>
<line x1="16.7" y1="385.9" x2="26.0" y2="385.9" stroke="#444" stroke-width="0.6"/>
<line x1="16.7" y1="309.3" x2="16.7" y2="385.9" stroke="#444" stroke-width="0.6"/>
<line x1="9.8" y1="347.6" x2="16.7" y2="347.6" stroke="#444" stroke-width="0.6"/>
<line x1="9.8" y1="247.4" x2="9.8" y2="347.6" stroke="#444" stroke-width="0.6"/>
<g fill="#bdbdbd">
<rect x="144.8" y="241.42" width="7.8" height="1.3"/>
<rect x="144.8" y="243.26" width="9.4" height="1.3"/>
<rect x="144.8" y="245.10" width="9.3" height="1.3"/>
<rect x="144.8" y="246.94" width="10.2" height="1.3"/>
<rect x="144.8" y="248.79" width="9.0" height="1.3"/>
<rect x="144.8" y="250.63" width="10.2" height="1.3"/>
<rect x="144.8" y="252.47" width="7.7" height="1.3"/>
<rect x="144.8" y="254.31" width="9.3" height="1.3"/>
<rect x="144.8" y="256.15" width="10.3" height="1.3"/>
<rect x="144.8" y="257.99" width="7.7" height="1.3"/>
<rect x="144.8" y="259.83" width="7.6" height="1.3"/>
<rect x="144.8" y="261.67" width="9.3" height="1.3"/>
<rect x="144.8" y="263.51" width="8.7" height="1.3"/>
<rect x="144.8" y="265.36" width="9.6" height="1.3"/>
<rect x="144.8" y="267.20" width="8.1" height="1.3"/>
<rect x="144.8" y="269.04" width="8.8" height="1.3"/>
<rect x="144.8" y="270.88" width="9.6" height="1.3"/>
<rect x="144.8" y="272.72" width="8.4" height="1.3"/>
<rect x="144.8" y="274.56" width="7.8" height="1.3"/>
<rect x="144.8" y="276.40" width="7.7" height="1.3"/>
<rect x="144.8" y="278.24" width="8.0" height="1.3"/>
<rect x="144.8" y="280.09" width="8.1" height="1.3"/>
<rect x="144.8" y="281.93" width="9.5" height="1.3"/>
<rect x="144.8" y="283.77" width="9.1" height="1.3"/>
<rect x="144.8" y="285.61" width="8.9" height="1.3"/>
<rect x="144.8" y="287.45" width="8.4" height="1.3"/>
<rect x="144.8" y="289.29" width="9.7" height="1.3"/>
<rect x="144.8" y="291.13" width="10.0" height="1.3"/>
<rect x="144.8" y="292.97" width="10.5" height="1.3"/>
<rect x="144.8" y="294.81" width="8.8" height="1.3"/>
<rect x="144.8" y="296.66" width="7.8" height="1.3"/>
<rect x="144.8" y="298.50" width="7.7" height="1.3"/>
<rect x="144.8" y="300.34" width="7.7" height="1.3"/>
<rect x="144.8" y="302.18" width="8.8" height="1.3"/>
<rect x="144.8" y="304.02" width="10.2" height="1.3"/>
<rect x="144.8" y="305.86" width="9.2" height="1.3"/>
<rect x="144.8" y="307.70" width="9.8" height="1.3"/>
<rect x="144.8" y="309.54" width="8.6" height="1.3"/>
<rect x="144.8" y="311.39" width="9.8" height="1.3"/>
<rect x="144.8" y="313.23" width="8.4" height="1.3"/>
<rect x="144.8" y="315.07" width="9.9" height="1.3"/>
<rect x="144.8" y="316.91" width="7.8" height="1.3"/>
<rect x="144.8" y="318.75" width="9.6" height="1.3"/>
<rect x="144.8" y="320.59" width="8.1" height="1.3"/>
<rect x="144.8" y="322.43" width="9.1" height="1.3"/>
<rect x="144.8" y="324.27" width="8.8" height="1.3"/>
<rect x="144.8" y="326.11" width="8.5" height="1.3"/>
<rect x="144.8" y="327.96" width="9.7" height="1.3"/>
<rect x="144.8" y="329.80" width="8.9" height="1.3"/>
<rect x="144.8" y="331.64" width="9.4" height="1.3"/>
<rect x="144.8" y="333.48" width="8.2" height="1.3"/>
<rect x="144.8" y="335.32" width="9.4" height="1.3"/>
<rect x="144.8" y="337.16" width="8.7" height="1.3"/>
<rect x="144.8" y="339.00" width="8.6" height="1.3"/>
<rect x="144.8" y="340.84" width="8.9" height="1.3"/>
<rect x="144.8" y="342.69" width="9.9" height="1.3"/>
<rect x="144.8" y="344.53" width="7.7" height="1.3"/>
<rect x="144.8" y="346.37" width="8.1" height="1.3"/>
<rect x="144.8" y="348.21" width="7.7" height="1.3"/>
<rect x="144.8" y="350.05" width="9.3" height="1.3"/>
<rect x="144.8" y="351.89" width="8.6" height="1.3"/>
<rect x="144.8" y="353.73" width="8.5" height="1.3"/>
<rect x="144.8" y="355.57" width="10.4" height="1.3"/>
<rect x="144.8" y="357.41" width="7.6" height="1.3"/>
<rect x="144.8" y="359.26" width="9.7" height="1.3"/>
<rect x="144.8" y="361.10" width="9.6" height="1.3"/>
<rect x="144.8" y="362.94" width="10.3" height="1.3"/>
<rect x="144.8" y="364.78" width="8.4" height="1.3"/>
<rect x="144.8" y="366.62" width="9.7" height="1.3"/>
<rect x="144.8" y="368.46" width="9.3" height="1.3"/>
<rect x="144.8" y="370.30" width="9.9" height="1.3"/>
<rect x="144.8" y="372.14" width="10.3" height="1.3"/>
<rect x="144.8" y="373.99" width="7.7" height="1.3"/>
<rect x="144.8" y="375.83" width="10.0" height="1.3"/>
<rect x="144.8" y="377.67" width="7.8" height="1.3"/>
<rect x="144.8" y="379.51" width="9.6" height="1.3"/>
<rect x="144.8" y="381.35" width="8.9" height="1.3"/>
<rect x="144.8" y="383.19" width="9.8" height="1.3"/>
<rect x="144.8" y="385.03" width="9.9" height="1.3"/>
<rect x="144.8" y="386.87" width="10.2" height="1.3"/>
<rect x="144.8" y="388.71" width="9.9" height="1.3"/>
<rect x="144.8" y="390.56" width="7.9" height="1.3"/>
<rect x="144.8" y="392.40" width="9.0" height="1.3"/>
<rect x="144.8" y="394.24" width="7.5" height="1.3"/>
<rect x="144.8" y="396.08" width="10.3" height="1.3"/>
</g>
<text x="0" y="0" font-size="6.7" text-anchor="start" font-weight="normal" fill="#222" transform="translate(49.1,401.8) rotate(56)">PHx-ctrl1</text>
<text x="0" y="0" font-size="6.7" text-anchor="start" font-weight="normal" fill="#222" transform="translate(65.5,401.8) rotate(56)">PHx-ctrl2</text>
<text x="0" y="0" font-size="6.7" text-anchor="start" font-weight="normal" fill="#222" transform="translate(82.0,401.8) rotate(56)">PHx-ctrl3</text>
<text x="0" y="0" font-size="6.7" text-anchor="start" font-weight="normal" fill="#222" transform="translate(98.5,401.8) rotate(56)">PHx-LKO1</text>
<text x="0" y="0" font-size="6.7" text-anchor="start" font-weight="normal" fill="#222" transform="translate(115.0,401.8) rotate(56)">PHx-LKO2</text>
<text x="0" y="0" font-size="6.7" text-anchor="start" font-weight="normal" fill="#222" transform="translate(131.5,401.8) rotate(56)">PHx-LKO3</text>
<defs><linearGradient id="hmcb" x1="0" y1="0" x2="0" y2="1"><stop offset="0" stop-color="#f8321f"/><stop offset="0.18" stop-color="#f87a4a"/><stop offset="0.35" stop-color="#fdc47c"/><stop offset="0.5" stop-color="#fff8c6"/><stop offset="0.62" stop-color="#e2f2f4"/><stop offset="0.78" stop-color="#9dcde4"/><stop offset="1" stop-color="#3a8ec6"/></linearGradient></defs>
<rect x="163.8" y="242" width="9.4" height="135" fill="url(#hmcb)"/>
<text x="176" y="252" font-size="3.6" text-anchor="start" font-weight="normal" fill="#777" >1.5</text>
<text x="176" y="270.5" font-size="3.6" text-anchor="start" font-weight="normal" fill="#777" >1</text>
<text x="176" y="290" font-size="3.6" text-anchor="start" font-weight="normal" fill="#777" >0.5</text>
<text x="176" y="309.8" font-size="3.6" text-anchor="start" font-weight="normal" fill="#777" >0</text>
<text x="176" y="330" font-size="3.6" text-anchor="start" font-weight="normal" fill="#777" >-0.5</text>
<text x="176" y="350" font-size="3.6" text-anchor="start" font-weight="normal" fill="#777" >-1</text>
<text x="176" y="370" font-size="3.6" text-anchor="start" font-weight="normal" fill="#777" >-1.5</text>
<line x1="251.9" y1="239" x2="251.9" y2="374.8" stroke="#111" stroke-width="1.3"/>
<line x1="251.3" y1="374.2" x2="383.8" y2="374.2" stroke="#111" stroke-width="1.3"/>
<line x1="247.6" y1="239.4" x2="251.9" y2="239.4" stroke="#111" stroke-width="1.1"/>
<text x="246.6" y="243.0" font-size="10" text-anchor="end" font-weight="bold" fill="#000" >1.5</text>
<line x1="247.6" y1="284.4" x2="251.9" y2="284.4" stroke="#111" stroke-width="1.1"/>
<text x="246.6" y="288.0" font-size="10" text-anchor="end" font-weight="bold" fill="#000" >1.0</text>
<line x1="247.6" y1="328.9" x2="251.9" y2="328.9" stroke="#111" stroke-width="1.1"/>
<text x="246.6" y="332.5" font-size="10" text-anchor="end" font-weight="bold" fill="#000" >0.5</text>
<line x1="247.6" y1="374.2" x2="251.9" y2="374.2" stroke="#111" stroke-width="1.1"/>
<text x="246.6" y="377.8" font-size="10" text-anchor="end" font-weight="bold" fill="#000" >0.0</text>
<text x="0" y="0" font-size="9.9" text-anchor="middle" font-weight="bold" fill="#000" transform="translate(229.4,305.8) rotate(-90)">Relative mRNA expression</text>
<line x1="266.40000000000003" y1="374.2" x2="266.40000000000003" y2="377.9" stroke="#111" stroke-width="1.1"/>
<text x="266.5" y="389.1" font-size="10" text-anchor="middle" font-weight="bold" fill="#000" >Ccnd1</text>
<line x1="260.5" y1="279.3" x2="260.5" y2="284.4" stroke="#000" stroke-width="1.1"/>
<line x1="258.5" y1="279.3" x2="262.5" y2="279.3" stroke="#000" stroke-width="1.1"/>
<rect x="256.5" y="284.4" width="8.300000000000011" height="89.80000000000001" fill="#000"/>
<line x1="273.5" y1="324.6" x2="273.5" y2="333.341" stroke="#222" stroke-width="1.1"/>
<line x1="271.5" y1="324.6" x2="275.5" y2="324.6" stroke="#222" stroke-width="1.1"/>
<rect x="269" y="333.341" width="8.399999999999977" height="40.85899999999998" fill="#aeaeb2"/>
<text x="273.5" y="324.0" font-size="10.5" text-anchor="middle" font-weight="normal" fill="#888" >**</text>
<line x1="299.7" y1="374.2" x2="299.7" y2="377.9" stroke="#111" stroke-width="1.1"/>
<text x="299.79999999999995" y="389.1" font-size="10" text-anchor="middle" font-weight="bold" fill="#000" >Ccna2</text>
<line x1="293.5" y1="279.3" x2="293.5" y2="284.4" stroke="#000" stroke-width="1.1"/>
<line x1="291.5" y1="279.3" x2="295.5" y2="279.3" stroke="#000" stroke-width="1.1"/>
<rect x="289.8" y="284.4" width="8.300000000000011" height="89.80000000000001" fill="#000"/>
<line x1="306.5" y1="320.2" x2="306.5" y2="331.99399999999997" stroke="#222" stroke-width="1.1"/>
<line x1="304.5" y1="320.2" x2="308.5" y2="320.2" stroke="#222" stroke-width="1.1"/>
<rect x="302.4" y="331.99399999999997" width="8.700000000000045" height="42.20600000000002" fill="#aeaeb2"/>
<text x="306.5" y="319.59999999999997" font-size="10.5" text-anchor="middle" font-weight="normal" fill="#888" >*</text>
<line x1="333.0" y1="374.2" x2="333.0" y2="377.9" stroke="#111" stroke-width="1.1"/>
<text x="333.09999999999997" y="389.1" font-size="10" text-anchor="middle" font-weight="bold" fill="#000" >Ccnb1</text>
<line x1="327.5" y1="272.8" x2="327.5" y2="284.4" stroke="#000" stroke-width="1.1"/>
<line x1="325.5" y1="272.8" x2="329.5" y2="272.8" stroke="#000" stroke-width="1.1"/>
<rect x="323.3" y="284.4" width="8.399999999999977" height="89.80000000000001" fill="#000"/>
<line x1="340.5" y1="325.6" x2="340.5" y2="338.28" stroke="#222" stroke-width="1.1"/>
<line x1="338.5" y1="325.6" x2="342.5" y2="325.6" stroke="#222" stroke-width="1.1"/>
<rect x="336.1" y="338.28" width="8.299999999999955" height="35.920000000000016" fill="#aeaeb2"/>
<text x="340.5" y="325.0" font-size="10.5" text-anchor="middle" font-weight="normal" fill="#888" >*</text>
<line x1="366.90000000000003" y1="374.2" x2="366.90000000000003" y2="377.9" stroke="#111" stroke-width="1.1"/>
<text x="367.0" y="389.1" font-size="10" text-anchor="middle" font-weight="bold" fill="#000" >Ccnb2</text>
<line x1="361.5" y1="270.6" x2="361.5" y2="284.4" stroke="#000" stroke-width="1.1"/>
<line x1="359.5" y1="270.6" x2="363.5" y2="270.6" stroke="#000" stroke-width="1.1"/>
<rect x="357.1" y="284.4" width="8.399999999999977" height="89.80000000000001" fill="#000"/>
<line x1="374.5" y1="322" x2="374.5" y2="333.341" stroke="#222" stroke-width="1.1"/>
<line x1="372.5" y1="322" x2="376.5" y2="322" stroke="#222" stroke-width="1.1"/>
<rect x="369.9" y="333.341" width="8.5" height="40.85899999999998" fill="#aeaeb2"/>
<text x="374.5" y="321.4" font-size="10.5" text-anchor="middle" font-weight="normal" fill="#888" >*</text>
<rect x="259.1" y="255.3" width="14.1" height="4.3" fill="#000"/>
<rect x="259.1" y="263.2" width="14.1" height="4.5" fill="#acacb0"/>
<text x="281.4" y="260.7" font-size="9.1" text-anchor="start" font-weight="normal" fill="#333" >WT</text>
<text x="281.4" y="268.7" font-size="9.1" text-anchor="start" font-weight="normal" fill="#333" >LKO</text>
<line x1="454.2" y1="243.6" x2="454.2" y2="377.8" stroke="#111" stroke-width="1.3"/>
<line x1="453.59999999999997" y1="377.2" x2="525.2" y2="377.2" stroke="#111" stroke-width="1.3"/>
<line x1="448.6" y1="244.0" x2="454.2" y2="244.0" stroke="#111" stroke-width="1.1"/>
<text x="447.2" y="247.7" font-size="10.4" text-anchor="end" font-weight="bold" fill="#000" >1.5</text>
<line x1="448.6" y1="288.4" x2="454.2" y2="288.4" stroke="#111" stroke-width="1.1"/>
<text x="447.2" y="292.1" font-size="10.4" text-anchor="end" font-weight="bold" fill="#000" >1.0</text>
<line x1="448.6" y1="332.8" x2="454.2" y2="332.8" stroke="#111" stroke-width="1.1"/>
<text x="447.2" y="336.5" font-size="10.4" text-anchor="end" font-weight="bold" fill="#000" >0.5</text>
<line x1="448.6" y1="377.2" x2="454.2" y2="377.2" stroke="#111" stroke-width="1.1"/>
<text x="447.2" y="380.9" font-size="10.4" text-anchor="end" font-weight="bold" fill="#000" >0.0</text>
<text x="0" y="0" font-size="10.8" text-anchor="middle" font-weight="bold" fill="#000" transform="translate(413.6,310.7) rotate(-90)">Relative mRNA</text>
<text x="0" y="0" font-size="10.8" text-anchor="middle" font-weight="bold" fill="#000" transform="translate(426.3,309.9) rotate(-90)">expression of Il6</text>
<line x1="474.2" y1="279.4" x2="474.2" y2="288" stroke="#444" stroke-width="1.1"/>
<line x1="469.4" y1="279.4" x2="479" y2="279.4" stroke="#444" stroke-width="1.1"/>
<rect x="464.8" y="288" width="19.2" height="89.2" fill="#000" stroke="#000" stroke-width="1.2"/>
<line x1="505" y1="280.6" x2="505" y2="297" stroke="#555" stroke-width="1.1"/>
<line x1="500.2" y1="280.6" x2="509.8" y2="280.6" stroke="#555" stroke-width="1.1"/>
<rect x="495.8" y="297.2" width="18.6" height="80" fill="#acacb0" stroke="#000" stroke-width="1.6"/>
<line x1="474.2" y1="377.2" x2="474.2" y2="382.5" stroke="#111" stroke-width="1.1"/>
<line x1="505" y1="377.2" x2="505" y2="382.5" stroke="#111" stroke-width="1.1"/>
<text x="474.1" y="393.6" font-size="10.3" text-anchor="middle" font-weight="bold" fill="#000" >WT</text>
<text x="505.4" y="393.6" font-size="10.3" text-anchor="middle" font-weight="bold" fill="#000" >LKO</text>
<text x="497.6" y="273.3" font-size="10.6" text-anchor="middle" font-weight="normal" fill="#444" >N.S.</text>
<defs><filter id="bl" x="-20%" y="-100%" width="140%" height="300%"><feGaussianBlur stdDeviation="0.9"/></filter><filter id="bl2" x="-20%" y="-20%" width="140%" height="140%"><feGaussianBlur stdDeviation="2.5"/></filter><linearGradient id="b1bg" x1="0" y1="0" x2="0" y2="1"><stop offset="0" stop-color="#cfcfcf"/><stop offset="0.55" stop-color="#e6e6e6"/><stop offset="1" stop-color="#f4f4f4"/></linearGradient><linearGradient id="b2bg" x1="0" y1="0" x2="0" y2="1"><stop offset="0" stop-color="#dcdcdc"/><stop offset="1" stop-color="#cfcfcf"/></linearGradient></defs>
<text x="644.7" y="264.3" font-size="11" text-anchor="middle" font-weight="bold" fill="#222" >WT</text>
<text x="715.6" y="264.3" font-size="11" text-anchor="middle" font-weight="bold" fill="#222" >LKO</text>
<line x1="621" y1="267" x2="674.3" y2="267" stroke="#222" stroke-width="1.5"/>
<line x1="693.3" y1="266.8" x2="740.8" y2="266.8" stroke="#222" stroke-width="1.5"/>
<text x="633.7" y="279.6" font-size="11" text-anchor="middle" font-weight="normal" fill="#2a2a2a" textLength="11.3" lengthAdjust="spacingAndGlyphs">0h</text>
<text x="668" y="279.6" font-size="11" text-anchor="middle" font-weight="normal" fill="#2a2a2a" textLength="11.3" lengthAdjust="spacingAndGlyphs">6h</text>
<text x="702" y="279.6" font-size="11" text-anchor="middle" font-weight="normal" fill="#2a2a2a" textLength="11.3" lengthAdjust="spacingAndGlyphs">0h</text>
<text x="734.3" y="279.6" font-size="11" text-anchor="middle" font-weight="normal" fill="#2a2a2a" textLength="11.3" lengthAdjust="spacingAndGlyphs">6h</text>
<rect x="614.8" y="284.3" width="137.8" height="27" fill="url(#b1bg)" stroke="#3a3a3a" stroke-width="1.3"/>
<ellipse cx="667" cy="292" rx="14" ry="7" fill="#bdbdbd" filter="url(#bl2)"/>
<g filter="url(#bl)">
<defs><linearGradient id="l1g" x1="0" y1="0" x2="1" y2="0"><stop offset="0" stop-color="#909090"/><stop offset="0.6" stop-color="#666"/><stop offset="1" stop-color="#222"/></linearGradient></defs>
<path d="M621,298.4 Q633,297.6 646,297.6 L646,300.2 Q633,300.4 621,300 Z" fill="url(#l1g)"/>
<ellipse cx="641.5" cy="298.9" rx="4.5" ry="1.6" fill="#080808"/>
<rect x="656.8" y="296" width="21.4" height="5.4" rx="2.7" fill="#000"/>
<path d="M687,298.8 Q700,297.6 712.7,297.8 L712.7,300.2 Q700,300.8 687,300.8 Z" fill="#3c3c3c"/>
<ellipse cx="735" cy="297.6" rx="12" ry="1.9" fill="#2a2a2a"/>
</g>
<rect x="614.8" y="313.8" width="138.7" height="23.2" fill="url(#b2bg)" stroke="#3a3a3a" stroke-width="1.3"/>
<g filter="url(#bl)">
<ellipse cx="633" cy="328" rx="12.5" ry="1.7" fill="#3a3a3a"/>
<path d="M656,327.4 Q662,326.6 667,327.8 Q672,329.6 678,329.4 L678,331 Q670,331.4 665,329.6 Q660,329 656,329.2 Z" fill="#2a2a2a"/>
<ellipse cx="700" cy="328" rx="12.5" ry="1.8" fill="#1e1e1e"/>
<ellipse cx="735.5" cy="327.8" rx="12.5" ry="2.1" fill="#111"/>
</g>
<rect x="614.5" y="340.3" width="139.5" height="26" fill="#d2d2d2" stroke="#4a4a4a" stroke-width="1.3"/>
<g filter="url(#bl)">
<ellipse cx="632" cy="352.2" rx="11.6" ry="2.8" fill="#050505"/>
<ellipse cx="665" cy="352.2" rx="14" ry="2.8" fill="#050505"/>
<ellipse cx="699" cy="352.2" rx="12.8" ry="2.8" fill="#050505"/>
<ellipse cx="733" cy="352.2" rx="14" ry="2.8" fill="#050505"/>
</g>
<text x="545.8" y="300.2" font-size="10.2" text-anchor="start" font-weight="bold" fill="#222" textLength="67.4" lengthAdjust="spacingAndGlyphs">p-STAT3(S 727)</text>
<text x="580.2" y="326.1" font-size="10.2" text-anchor="start" font-weight="bold" fill="#222" textLength="26.8" lengthAdjust="spacingAndGlyphs">STAT3</text>
<text x="576.5" y="354" font-size="10.2" text-anchor="start" font-weight="bold" fill="#222" textLength="32.2" lengthAdjust="spacingAndGlyphs">β-Actin</text>
<text x="755.9" y="302.5" font-size="10" text-anchor="start" font-weight="bold" fill="#222" textLength="27.1" lengthAdjust="spacingAndGlyphs">86 KD</text>
<text x="755.9" y="331.1" font-size="10" text-anchor="start" font-weight="bold" fill="#222" textLength="27.1" lengthAdjust="spacingAndGlyphs">86 KD</text>
<text x="755.9" y="357.3" font-size="10" text-anchor="start" font-weight="bold" fill="#222" textLength="27.1" lengthAdjust="spacingAndGlyphs">42 KD</text>
</svg>
</body></html>
